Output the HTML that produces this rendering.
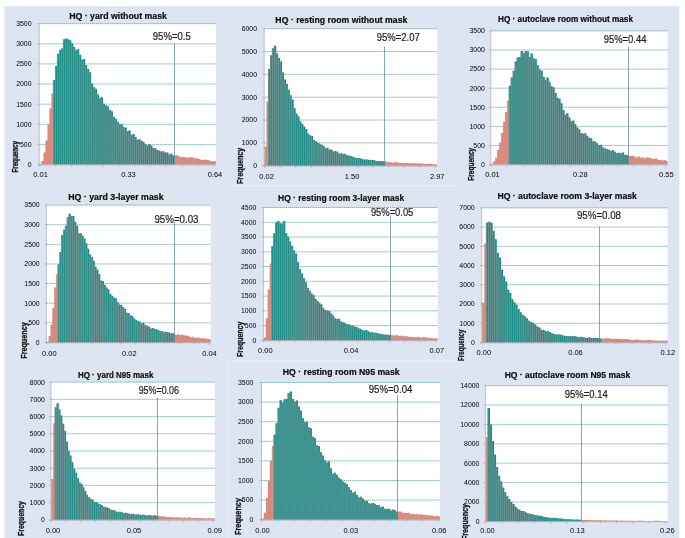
<!DOCTYPE html>
<html><head><meta charset="utf-8"><title>HQ histograms</title>
<style>html,body{margin:0;padding:0;background:#fff;}body{width:685px;height:538px;overflow:hidden;position:relative;font-family:"Liberation Sans",sans-serif;}</style></head>
<body>
<svg width="685" height="538" viewBox="0 0 685 538" style="position:absolute;left:0;top:0" font-family="Liberation Sans, sans-serif">
<defs><filter id="bl" x="-5%" y="-5%" width="110%" height="110%"><feGaussianBlur stdDeviation="0.55"/></filter><filter id="bl2" x="-5%" y="-5%" width="110%" height="110%"><feGaussianBlur stdDeviation="0.32"/></filter></defs>
<rect width="685" height="538" fill="#ffffff"/>
<g filter="url(#bl)">
<rect x="4.3" y="6.2" width="675.0" height="540" fill="#dde5f2"/>
<rect x="227.3" y="361.5" width="1.4" height="180" fill="#e9eef8"/>
<rect x="226" y="185.3" width="231" height="1.3" fill="#e7edf7"/>
<rect x="227.3" y="360.6" width="229" height="1.3" fill="#e8eef8"/>
<rect x="39.62" y="23.67" width="176.29" height="140.87" fill="#ffffff"/>
<line x1="39.62" x2="215.92" y1="23.67" y2="23.67" stroke="#5fa5a1" stroke-width="0.75" stroke-dasharray="1.5 0.5"/>
<line x1="39.62" x2="215.92" y1="43.8" y2="43.8" stroke="#5fa5a1" stroke-width="0.75" stroke-dasharray="1.5 0.5"/>
<line x1="39.62" x2="215.92" y1="63.92" y2="63.92" stroke="#5fa5a1" stroke-width="0.75" stroke-dasharray="1.5 0.5"/>
<line x1="39.62" x2="215.92" y1="84.04" y2="84.04" stroke="#5fa5a1" stroke-width="0.75" stroke-dasharray="1.5 0.5"/>
<line x1="39.62" x2="215.92" y1="104.17" y2="104.17" stroke="#5fa5a1" stroke-width="0.75" stroke-dasharray="1.5 0.5"/>
<line x1="39.62" x2="215.92" y1="124.29" y2="124.29" stroke="#5fa5a1" stroke-width="0.75" stroke-dasharray="1.5 0.5"/>
<line x1="39.62" x2="215.92" y1="144.42" y2="144.42" stroke="#5fa5a1" stroke-width="0.75" stroke-dasharray="1.5 0.5"/>
<rect x="264.62" y="28.71" width="172.6" height="137" fill="#ffffff"/>
<line x1="264.62" x2="437.22" y1="28.71" y2="28.71" stroke="#5fa5a1" stroke-width="0.75" stroke-dasharray="1.5 0.5"/>
<line x1="264.62" x2="437.22" y1="51.54" y2="51.54" stroke="#5fa5a1" stroke-width="0.75" stroke-dasharray="1.5 0.5"/>
<line x1="264.62" x2="437.22" y1="74.38" y2="74.38" stroke="#5fa5a1" stroke-width="0.75" stroke-dasharray="1.5 0.5"/>
<line x1="264.62" x2="437.22" y1="97.21" y2="97.21" stroke="#5fa5a1" stroke-width="0.75" stroke-dasharray="1.5 0.5"/>
<line x1="264.62" x2="437.22" y1="120.05" y2="120.05" stroke="#5fa5a1" stroke-width="0.75" stroke-dasharray="1.5 0.5"/>
<line x1="264.62" x2="437.22" y1="142.88" y2="142.88" stroke="#5fa5a1" stroke-width="0.75" stroke-dasharray="1.5 0.5"/>
<rect x="491.27" y="30.89" width="176.29" height="133.65" fill="#ffffff"/>
<line x1="491.27" x2="667.56" y1="30.89" y2="30.89" stroke="#5fa5a1" stroke-width="0.75" stroke-dasharray="1.5 0.5"/>
<line x1="491.27" x2="667.56" y1="49.99" y2="49.99" stroke="#5fa5a1" stroke-width="0.75" stroke-dasharray="1.5 0.5"/>
<line x1="491.27" x2="667.56" y1="69.08" y2="69.08" stroke="#5fa5a1" stroke-width="0.75" stroke-dasharray="1.5 0.5"/>
<line x1="491.27" x2="667.56" y1="88.17" y2="88.17" stroke="#5fa5a1" stroke-width="0.75" stroke-dasharray="1.5 0.5"/>
<line x1="491.27" x2="667.56" y1="107.26" y2="107.26" stroke="#5fa5a1" stroke-width="0.75" stroke-dasharray="1.5 0.5"/>
<line x1="491.27" x2="667.56" y1="126.36" y2="126.36" stroke="#5fa5a1" stroke-width="0.75" stroke-dasharray="1.5 0.5"/>
<line x1="491.27" x2="667.56" y1="145.45" y2="145.45" stroke="#5fa5a1" stroke-width="0.75" stroke-dasharray="1.5 0.5"/>
<rect x="46.88" y="205.1" width="163.9" height="137.29" fill="#ffffff"/>
<line x1="46.88" x2="210.78" y1="205.1" y2="205.1" stroke="#5fa5a1" stroke-width="0.75" stroke-dasharray="1.5 0.5"/>
<line x1="46.88" x2="210.78" y1="224.71" y2="224.71" stroke="#5fa5a1" stroke-width="0.75" stroke-dasharray="1.5 0.5"/>
<line x1="46.88" x2="210.78" y1="244.33" y2="244.33" stroke="#5fa5a1" stroke-width="0.75" stroke-dasharray="1.5 0.5"/>
<line x1="46.88" x2="210.78" y1="263.94" y2="263.94" stroke="#5fa5a1" stroke-width="0.75" stroke-dasharray="1.5 0.5"/>
<line x1="46.88" x2="210.78" y1="283.55" y2="283.55" stroke="#5fa5a1" stroke-width="0.75" stroke-dasharray="1.5 0.5"/>
<line x1="46.88" x2="210.78" y1="303.17" y2="303.17" stroke="#5fa5a1" stroke-width="0.75" stroke-dasharray="1.5 0.5"/>
<line x1="46.88" x2="210.78" y1="322.78" y2="322.78" stroke="#5fa5a1" stroke-width="0.75" stroke-dasharray="1.5 0.5"/>
<rect x="263.86" y="207.5" width="173.82" height="132.84" fill="#ffffff"/>
<line x1="263.86" x2="437.69" y1="207.5" y2="207.5" stroke="#5fa5a1" stroke-width="0.75" stroke-dasharray="1.5 0.5"/>
<line x1="263.86" x2="437.69" y1="222.26" y2="222.26" stroke="#5fa5a1" stroke-width="0.75" stroke-dasharray="1.5 0.5"/>
<line x1="263.86" x2="437.69" y1="237.02" y2="237.02" stroke="#5fa5a1" stroke-width="0.75" stroke-dasharray="1.5 0.5"/>
<line x1="263.86" x2="437.69" y1="251.78" y2="251.78" stroke="#5fa5a1" stroke-width="0.75" stroke-dasharray="1.5 0.5"/>
<line x1="263.86" x2="437.69" y1="266.54" y2="266.54" stroke="#5fa5a1" stroke-width="0.75" stroke-dasharray="1.5 0.5"/>
<line x1="263.86" x2="437.69" y1="281.3" y2="281.3" stroke="#5fa5a1" stroke-width="0.75" stroke-dasharray="1.5 0.5"/>
<line x1="263.86" x2="437.69" y1="296.07" y2="296.07" stroke="#5fa5a1" stroke-width="0.75" stroke-dasharray="1.5 0.5"/>
<line x1="263.86" x2="437.69" y1="310.83" y2="310.83" stroke="#5fa5a1" stroke-width="0.75" stroke-dasharray="1.5 0.5"/>
<line x1="263.86" x2="437.69" y1="325.59" y2="325.59" stroke="#5fa5a1" stroke-width="0.75" stroke-dasharray="1.5 0.5"/>
<rect x="482.2" y="207.86" width="185.48" height="134.61" fill="#ffffff"/>
<line x1="482.2" x2="667.69" y1="207.86" y2="207.86" stroke="#5fa5a1" stroke-width="0.75" stroke-dasharray="1.5 0.5"/>
<line x1="482.2" x2="667.69" y1="227.09" y2="227.09" stroke="#5fa5a1" stroke-width="0.75" stroke-dasharray="1.5 0.5"/>
<line x1="482.2" x2="667.69" y1="246.32" y2="246.32" stroke="#5fa5a1" stroke-width="0.75" stroke-dasharray="1.5 0.5"/>
<line x1="482.2" x2="667.69" y1="265.55" y2="265.55" stroke="#5fa5a1" stroke-width="0.75" stroke-dasharray="1.5 0.5"/>
<line x1="482.2" x2="667.69" y1="284.78" y2="284.78" stroke="#5fa5a1" stroke-width="0.75" stroke-dasharray="1.5 0.5"/>
<line x1="482.2" x2="667.69" y1="304.01" y2="304.01" stroke="#5fa5a1" stroke-width="0.75" stroke-dasharray="1.5 0.5"/>
<line x1="482.2" x2="667.69" y1="323.24" y2="323.24" stroke="#5fa5a1" stroke-width="0.75" stroke-dasharray="1.5 0.5"/>
<rect x="51.38" y="382.18" width="163.53" height="137.68" fill="#ffffff"/>
<line x1="51.38" x2="214.91" y1="382.18" y2="382.18" stroke="#5fa5a1" stroke-width="0.75" stroke-dasharray="1.5 0.5"/>
<line x1="51.38" x2="214.91" y1="399.39" y2="399.39" stroke="#5fa5a1" stroke-width="0.75" stroke-dasharray="1.5 0.5"/>
<line x1="51.38" x2="214.91" y1="416.6" y2="416.6" stroke="#5fa5a1" stroke-width="0.75" stroke-dasharray="1.5 0.5"/>
<line x1="51.38" x2="214.91" y1="433.81" y2="433.81" stroke="#5fa5a1" stroke-width="0.75" stroke-dasharray="1.5 0.5"/>
<line x1="51.38" x2="214.91" y1="451.02" y2="451.02" stroke="#5fa5a1" stroke-width="0.75" stroke-dasharray="1.5 0.5"/>
<line x1="51.38" x2="214.91" y1="468.22" y2="468.22" stroke="#5fa5a1" stroke-width="0.75" stroke-dasharray="1.5 0.5"/>
<line x1="51.38" x2="214.91" y1="485.43" y2="485.43" stroke="#5fa5a1" stroke-width="0.75" stroke-dasharray="1.5 0.5"/>
<line x1="51.38" x2="214.91" y1="502.64" y2="502.64" stroke="#5fa5a1" stroke-width="0.75" stroke-dasharray="1.5 0.5"/>
<rect x="261.94" y="382.51" width="177.97" height="137.17" fill="#ffffff"/>
<line x1="261.94" x2="439.91" y1="382.51" y2="382.51" stroke="#5fa5a1" stroke-width="0.75" stroke-dasharray="1.5 0.5"/>
<line x1="261.94" x2="439.91" y1="402.11" y2="402.11" stroke="#5fa5a1" stroke-width="0.75" stroke-dasharray="1.5 0.5"/>
<line x1="261.94" x2="439.91" y1="421.71" y2="421.71" stroke="#5fa5a1" stroke-width="0.75" stroke-dasharray="1.5 0.5"/>
<line x1="261.94" x2="439.91" y1="441.3" y2="441.3" stroke="#5fa5a1" stroke-width="0.75" stroke-dasharray="1.5 0.5"/>
<line x1="261.94" x2="439.91" y1="460.9" y2="460.9" stroke="#5fa5a1" stroke-width="0.75" stroke-dasharray="1.5 0.5"/>
<line x1="261.94" x2="439.91" y1="480.49" y2="480.49" stroke="#5fa5a1" stroke-width="0.75" stroke-dasharray="1.5 0.5"/>
<line x1="261.94" x2="439.91" y1="500.09" y2="500.09" stroke="#5fa5a1" stroke-width="0.75" stroke-dasharray="1.5 0.5"/>
<rect x="485.89" y="385.6" width="181.67" height="135.76" fill="#ffffff"/>
<line x1="485.89" x2="667.56" y1="385.6" y2="385.6" stroke="#5fa5a1" stroke-width="0.75" stroke-dasharray="1.5 0.5"/>
<line x1="485.89" x2="667.56" y1="405" y2="405" stroke="#5fa5a1" stroke-width="0.75" stroke-dasharray="1.5 0.5"/>
<line x1="485.89" x2="667.56" y1="424.39" y2="424.39" stroke="#5fa5a1" stroke-width="0.75" stroke-dasharray="1.5 0.5"/>
<line x1="485.89" x2="667.56" y1="443.79" y2="443.79" stroke="#5fa5a1" stroke-width="0.75" stroke-dasharray="1.5 0.5"/>
<line x1="485.89" x2="667.56" y1="463.18" y2="463.18" stroke="#5fa5a1" stroke-width="0.75" stroke-dasharray="1.5 0.5"/>
<line x1="485.89" x2="667.56" y1="482.58" y2="482.58" stroke="#5fa5a1" stroke-width="0.75" stroke-dasharray="1.5 0.5"/>
<line x1="485.89" x2="667.56" y1="501.97" y2="501.97" stroke="#5fa5a1" stroke-width="0.75" stroke-dasharray="1.5 0.5"/>
</g>
<g filter="url(#bl2)">
<path d="M55.47 164.54V65.93h1.98V164.54zM59.43 164.54V50.08h1.98V164.54zM63.39 164.54V39.29h1.98V164.54zM67.36 164.54V39.29h1.98V164.54zM71.32 164.54V43.39h1.98V164.54zM75.28 164.54V50.08h1.98V164.54zM79.24 164.54V54.66h1.98V164.54zM83.2 164.54V59.09h1.98V164.54zM87.16 164.54V69.07h1.98V164.54zM91.13 164.54V83.41h1.98V164.54zM95.09 164.54V88.73h1.98V164.54zM99.05 164.54V97.89h1.98V164.54zM103.01 164.54V103.76h1.98V164.54zM106.97 164.54V106.25h1.98V164.54zM110.93 164.54V111.26h1.98V164.54zM114.89 164.54V118.75h1.98V164.54zM118.86 164.54V124.26h1.98V164.54zM122.82 164.54V126.94h1.98V164.54zM126.78 164.54V131.21h1.98V164.54zM130.74 164.54V135.01h1.98V164.54zM134.7 164.54V136.9h1.98V164.54zM138.66 164.54V139.23h1.98V164.54zM142.63 164.54V141.89h1.98V164.54zM146.59 164.54V145.5h1.98V164.54zM150.55 164.54V145.58h1.98V164.54zM154.51 164.54V148.13h1.98V164.54zM158.47 164.54V150.62h1.98V164.54zM162.43 164.54V151.18h1.98V164.54zM166.4 164.54V152.58h1.98V164.54zM170.36 164.54V153.86h1.98V164.54z" fill="#128d85"/>
<path d="M53.49 164.54V80.02h1.98V164.54zM57.45 164.54V53.66h1.98V164.54zM61.41 164.54V48.51h1.98V164.54zM65.37 164.54V38.57h1.98V164.54zM69.34 164.54V40.3h1.98V164.54zM73.3 164.54V46.98h1.98V164.54zM77.26 164.54V49.03h1.98V164.54zM81.22 164.54V59.82h1.98V164.54zM85.18 164.54V64.97h1.98V164.54zM89.14 164.54V72.13h1.98V164.54zM93.11 164.54V87.22h1.98V164.54zM97.07 164.54V94.53h1.98V164.54zM101.03 164.54V97.36h1.98V164.54zM104.99 164.54V105.37h1.98V164.54zM108.95 164.54V110.05h1.98V164.54zM112.91 164.54V116.86h1.98V164.54zM116.88 164.54V121.8h1.98V164.54zM120.84 164.54V124.6h1.98V164.54zM124.8 164.54V127.73h1.98V164.54zM128.76 164.54V130.41h1.98V164.54zM132.72 164.54V133.89h1.98V164.54zM136.68 164.54V139.8h1.98V164.54zM140.65 164.54V140.71h1.98V164.54zM144.61 164.54V144.18h1.98V164.54zM148.57 164.54V144.21h1.98V164.54zM152.53 164.54V148.01h1.98V164.54zM156.49 164.54V150h1.98V164.54zM160.45 164.54V151.45h1.98V164.54zM164.42 164.54V152.61h1.98V164.54zM168.38 164.54V154.56h1.98V164.54zM172.34 164.54V155.51h1.98V164.54z" fill="#128d85"/>
<path d="M39.62 164.54V163.74h1.98V164.54zM41.6 164.54V160.92h1.98V164.54zM43.59 164.54V152.47h1.98V164.54zM45.57 164.54V140.39h1.98V164.54zM47.55 164.54V124.29h1.98V164.54zM49.53 164.54V108.19h1.98V164.54zM51.51 164.54V93.3h1.98V164.54zM174.32 164.54V155.24h1.98V164.54zM176.3 164.54V155.36h1.98V164.54zM178.28 164.54V156.23h1.98V164.54zM180.26 164.54V157.28h1.98V164.54zM182.24 164.54V156.64h1.98V164.54zM184.22 164.54V157.23h1.98V164.54zM186.2 164.54V157.78h1.98V164.54zM188.19 164.54V157.35h1.98V164.54zM190.17 164.54V157.16h1.98V164.54zM192.15 164.54V157.54h1.98V164.54zM194.13 164.54V158.16h1.98V164.54zM196.11 164.54V158.28h1.98V164.54zM198.09 164.54V159.02h1.98V164.54zM200.07 164.54V159.8h1.98V164.54zM202.05 164.54V160.09h1.98V164.54zM204.03 164.54V159.55h1.98V164.54zM206.01 164.54V160.1h1.98V164.54zM207.99 164.54V160.15h1.98V164.54zM209.97 164.54V161.2h1.98V164.54zM211.96 164.54V161.17h1.98V164.54zM213.94 164.54V160.94h1.98V164.54z" fill="#dc8a7c"/>
<path d="M53.49 164.54V80.02M55.47 164.54V65.93M57.45 164.54V53.66M59.43 164.54V50.08M61.41 164.54V48.51M63.39 164.54V39.29M65.37 164.54V38.57M67.36 164.54V39.29M69.34 164.54V40.3M71.32 164.54V43.39M73.3 164.54V46.98M75.28 164.54V50.08M77.26 164.54V49.03M79.24 164.54V54.66M81.22 164.54V59.82M83.2 164.54V59.09M85.18 164.54V64.97M87.16 164.54V69.07M89.14 164.54V72.13M91.13 164.54V83.41M93.11 164.54V87.22M95.09 164.54V88.73M97.07 164.54V94.53M99.05 164.54V97.89M101.03 164.54V97.36M103.01 164.54V103.76M104.99 164.54V105.37M106.97 164.54V106.25M108.95 164.54V110.05M110.93 164.54V111.26M112.91 164.54V116.86M114.89 164.54V118.75M116.88 164.54V121.8M118.86 164.54V124.26M120.84 164.54V124.6M122.82 164.54V126.94M124.8 164.54V127.73M126.78 164.54V131.21M128.76 164.54V130.41M130.74 164.54V135.01M132.72 164.54V133.89M134.7 164.54V136.9M136.68 164.54V139.8M138.66 164.54V139.23M140.65 164.54V140.71M142.63 164.54V141.89M144.61 164.54V144.18M146.59 164.54V145.5M148.57 164.54V144.21M150.55 164.54V145.58M152.53 164.54V148.01M154.51 164.54V148.13M156.49 164.54V150M158.47 164.54V150.62M160.45 164.54V151.45M162.43 164.54V151.18M164.42 164.54V152.61M166.4 164.54V152.58M168.38 164.54V154.56M170.36 164.54V153.86M172.34 164.54V155.51" stroke="#6e9393" stroke-width="1.1" fill="none" opacity="1"/>
<path d="M39.62 164.54V163.74M41.6 164.54V160.92M43.59 164.54V152.47M45.57 164.54V140.39M47.55 164.54V124.29M49.53 164.54V108.19M51.51 164.54V93.3M174.32 164.54V155.24M176.3 164.54V155.36M178.28 164.54V156.23M180.26 164.54V157.28M182.24 164.54V156.64M184.22 164.54V157.23M186.2 164.54V157.78M188.19 164.54V157.35M190.17 164.54V157.16M192.15 164.54V157.54M194.13 164.54V158.16M196.11 164.54V158.28M198.09 164.54V159.02M200.07 164.54V159.8M202.05 164.54V160.09M204.03 164.54V159.55M206.01 164.54V160.1M207.99 164.54V160.15M209.97 164.54V161.2M211.96 164.54V161.17M213.94 164.54V160.94" stroke="#b89a96" stroke-width="0.4" fill="none" opacity="0.6"/>
<path d="M268.5 165.72V68.9h1.94V165.72zM272.38 165.72V48.37h1.94V165.72zM276.26 165.72V53.59h1.94V165.72zM280.14 165.72V61.25h1.94V165.72zM284.02 165.72V79.5h1.94V165.72zM287.9 165.72V89.76h1.94V165.72zM291.77 165.72V99.53h1.94V165.72zM295.65 165.72V113.43h1.94V165.72zM299.53 165.72V121.59h1.94V165.72zM303.41 165.72V126.4h1.94V165.72zM307.29 165.72V133.5h1.94V165.72zM311.17 165.72V135.93h1.94V165.72zM315.05 165.72V141.32h1.94V165.72zM318.92 165.72V143.8h1.94V165.72zM322.8 165.72V145.92h1.94V165.72zM326.68 165.72V147.78h1.94V165.72zM330.56 165.72V149.49h1.94V165.72zM334.44 165.72V151.12h1.94V165.72zM338.32 165.72V153.78h1.94V165.72zM342.2 165.72V153.93h1.94V165.72zM346.08 165.72V155.15h1.94V165.72zM349.95 165.72V156.01h1.94V165.72zM353.83 165.72V157.48h1.94V165.72zM357.71 165.72V158.13h1.94V165.72zM361.59 165.72V159.16h1.94V165.72zM365.47 165.72V159.41h1.94V165.72zM369.35 165.72V160.06h1.94V165.72zM373.23 165.72V159.92h1.94V165.72zM377.1 165.72V160.97h1.94V165.72zM380.98 165.72V161.09h1.94V165.72z" fill="#128d85"/>
<path d="M270.44 165.72V55.37h1.94V165.72zM274.32 165.72V45.63h1.94V165.72zM278.2 165.72V58.11h1.94V165.72zM282.08 165.72V72.45h1.94V165.72zM285.96 165.72V83.86h1.94V165.72zM289.84 165.72V95.17h1.94V165.72zM293.71 165.72V108.2h1.94V165.72zM297.59 165.72V116.17h1.94V165.72zM301.47 165.72V123.97h1.94V165.72zM305.35 165.72V129.08h1.94V165.72zM309.23 165.72V135.26h1.94V165.72zM313.11 165.72V140.06h1.94V165.72zM316.99 165.72V142.72h1.94V165.72zM320.86 165.72V144.69h1.94V165.72zM324.74 165.72V148.35h1.94V165.72zM328.62 165.72V149.85h1.94V165.72zM332.5 165.72V151.4h1.94V165.72zM336.38 165.72V151.7h1.94V165.72zM340.26 165.72V153.27h1.94V165.72zM344.14 165.72V153.83h1.94V165.72zM348.01 165.72V155.39h1.94V165.72zM351.89 165.72V156.64h1.94V165.72zM355.77 165.72V157.91h1.94V165.72zM359.65 165.72V158.2h1.94V165.72zM363.53 165.72V159.57h1.94V165.72zM367.41 165.72V159.77h1.94V165.72zM371.29 165.72V160.07h1.94V165.72zM375.16 165.72V160.96h1.94V165.72zM379.04 165.72V160.98h1.94V165.72zM382.92 165.72V161.55h1.94V165.72z" fill="#128d85"/>
<path d="M264.62 165.72V146.83h1.94V165.72zM266.56 165.72V101.65h1.94V165.72zM384.86 165.72V161.51h1.94V165.72zM386.8 165.72V162.21h1.94V165.72zM388.74 165.72V161.84h1.94V165.72zM390.68 165.72V162.51h1.94V165.72zM392.62 165.72V162.63h1.94V165.72zM394.56 165.72V162.09h1.94V165.72zM396.5 165.72V162.33h1.94V165.72zM398.44 165.72V162.91h1.94V165.72zM400.38 165.72V163.11h1.94V165.72zM402.32 165.72V163.35h1.94V165.72zM404.25 165.72V162.99h1.94V165.72zM406.19 165.72V163.05h1.94V165.72zM408.13 165.72V163.36h1.94V165.72zM410.07 165.72V163.54h1.94V165.72zM412.01 165.72V163.34h1.94V165.72zM413.95 165.72V163.24h1.94V165.72zM415.89 165.72V163.62h1.94V165.72zM417.83 165.72V163.34h1.94V165.72zM419.77 165.72V163.76h1.94V165.72zM421.71 165.72V163.56h1.94V165.72zM423.65 165.72V163.92h1.94V165.72zM425.59 165.72V164.04h1.94V165.72zM427.53 165.72V163.8h1.94V165.72zM429.47 165.72V163.82h1.94V165.72zM431.41 165.72V163.98h1.94V165.72zM433.34 165.72V164.35h1.94V165.72zM435.28 165.72V164.43h1.94V165.72z" fill="#dc8a7c"/>
<path d="M268.5 165.72V68.9M270.44 165.72V55.37M272.38 165.72V48.37M274.32 165.72V45.63M276.26 165.72V53.59M278.2 165.72V58.11M280.14 165.72V61.25M282.08 165.72V72.45M284.02 165.72V79.5M285.96 165.72V83.86M287.9 165.72V89.76M289.84 165.72V95.17M291.77 165.72V99.53M293.71 165.72V108.2M295.65 165.72V113.43M297.59 165.72V116.17M299.53 165.72V121.59M301.47 165.72V123.97M303.41 165.72V126.4M305.35 165.72V129.08M307.29 165.72V133.5M309.23 165.72V135.26M311.17 165.72V135.93M313.11 165.72V140.06M315.05 165.72V141.32M316.99 165.72V142.72M318.92 165.72V143.8M320.86 165.72V144.69M322.8 165.72V145.92M324.74 165.72V148.35M326.68 165.72V147.78M328.62 165.72V149.85M330.56 165.72V149.49M332.5 165.72V151.4M334.44 165.72V151.12M336.38 165.72V151.7M338.32 165.72V153.78M340.26 165.72V153.27M342.2 165.72V153.93M344.14 165.72V153.83M346.08 165.72V155.15M348.01 165.72V155.39M349.95 165.72V156.01M351.89 165.72V156.64M353.83 165.72V157.48M355.77 165.72V157.91M357.71 165.72V158.13M359.65 165.72V158.2M361.59 165.72V159.16M363.53 165.72V159.57M365.47 165.72V159.41M367.41 165.72V159.77M369.35 165.72V160.06M371.29 165.72V160.07M373.23 165.72V159.92M375.16 165.72V160.96M377.1 165.72V160.97M379.04 165.72V160.98M380.98 165.72V161.09M382.92 165.72V161.55" stroke="#6e9393" stroke-width="1.1" fill="none" opacity="1"/>
<path d="M264.62 165.72V146.83M266.56 165.72V101.65M384.86 165.72V161.51M386.8 165.72V162.21M388.74 165.72V161.84M390.68 165.72V162.51M392.62 165.72V162.63M394.56 165.72V162.09M396.5 165.72V162.33M398.44 165.72V162.91M400.38 165.72V163.11M402.32 165.72V163.35M404.25 165.72V162.99M406.19 165.72V163.05M408.13 165.72V163.36M410.07 165.72V163.54M412.01 165.72V163.34M413.95 165.72V163.24M415.89 165.72V163.62M417.83 165.72V163.34M419.77 165.72V163.76M421.71 165.72V163.56M423.65 165.72V163.92M425.59 165.72V164.04M427.53 165.72V163.8M429.47 165.72V163.82M431.41 165.72V163.98M433.34 165.72V164.35M435.28 165.72V164.43" stroke="#b89a96" stroke-width="0.4" fill="none" opacity="0.6"/>
<path d="M511.07 164.54V77.19h1.98V164.54zM515.04 164.54V61.49h1.98V164.54zM519 164.54V56.98h1.98V164.54zM522.96 164.54V53.13h1.98V164.54zM526.92 164.54V51.37h1.98V164.54zM530.88 164.54V53.4h1.98V164.54zM534.84 164.54V59.02h1.98V164.54zM538.81 164.54V69.59h1.98V164.54zM542.77 164.54V76.86h1.98V164.54zM546.73 164.54V77.44h1.98V164.54zM550.69 164.54V86.35h1.98V164.54zM554.65 164.54V93.12h1.98V164.54zM558.61 164.54V98.79h1.98V164.54zM562.58 164.54V110.08h1.98V164.54zM566.54 164.54V113.24h1.98V164.54zM570.5 164.54V121.24h1.98V164.54zM574.46 164.54V124.13h1.98V164.54zM578.42 164.54V129.57h1.98V164.54zM582.38 164.54V133.72h1.98V164.54zM586.35 164.54V135.69h1.98V164.54zM590.31 164.54V138.27h1.98V164.54zM594.27 164.54V141.62h1.98V164.54zM598.23 164.54V145.13h1.98V164.54zM602.19 164.54V147.52h1.98V164.54zM606.15 164.54V148.89h1.98V164.54zM610.12 164.54V150.92h1.98V164.54zM614.08 164.54V151.67h1.98V164.54zM618.04 164.54V152.64h1.98V164.54zM622 164.54V152.57h1.98V164.54zM625.96 164.54V155.04h1.98V164.54z" fill="#128d85"/>
<path d="M509.09 164.54V85.85h1.98V164.54zM513.05 164.54V70.76h1.98V164.54zM517.02 164.54V57.58h1.98V164.54zM520.98 164.54V50.88h1.98V164.54zM524.94 164.54V50.89h1.98V164.54zM528.9 164.54V56.9h1.98V164.54zM532.86 164.54V58.28h1.98V164.54zM536.82 164.54V65.15h1.98V164.54zM540.79 164.54V70.69h1.98V164.54zM544.75 164.54V79.74h1.98V164.54zM548.71 164.54V81.63h1.98V164.54zM552.67 164.54V87.35h1.98V164.54zM556.63 164.54V97.75h1.98V164.54zM560.59 164.54V103.15h1.98V164.54zM564.56 164.54V114.77h1.98V164.54zM568.52 164.54V117.51h1.98V164.54zM572.48 164.54V120.43h1.98V164.54zM576.44 164.54V127.61h1.98V164.54zM580.4 164.54V132.99h1.98V164.54zM584.36 164.54V133.26h1.98V164.54zM588.33 164.54V137.82h1.98V164.54zM592.29 164.54V141.19h1.98V164.54zM596.25 164.54V143.34h1.98V164.54zM600.21 164.54V144.71h1.98V164.54zM604.17 164.54V148.4h1.98V164.54zM608.13 164.54V149.75h1.98V164.54zM612.1 164.54V150.26h1.98V164.54zM616.06 164.54V152.95h1.98V164.54zM620.02 164.54V153.53h1.98V164.54zM623.98 164.54V154.84h1.98V164.54z" fill="#128d85"/>
<path d="M491.27 164.54V163.64h1.98V164.54zM493.25 164.54V161.16h1.98V164.54zM495.23 164.54V157.72h1.98V164.54zM497.21 164.54V149.97h1.98V164.54zM499.19 164.54V142.68h1.98V164.54zM501.17 164.54V133.07h1.98V164.54zM503.15 164.54V121.61h1.98V164.54zM505.13 164.54V111.97h1.98V164.54zM507.11 164.54V100.7h1.98V164.54zM627.94 164.54V155.95h1.98V164.54zM629.92 164.54V156.01h1.98V164.54zM631.9 164.54V155.74h1.98V164.54zM633.88 164.54V156.5h1.98V164.54zM635.87 164.54V157.44h1.98V164.54zM637.85 164.54V156.53h1.98V164.54zM639.83 164.54V157.8h1.98V164.54zM641.81 164.54V157.36h1.98V164.54zM643.79 164.54V158.38h1.98V164.54zM645.77 164.54V157.37h1.98V164.54zM647.75 164.54V157.59h1.98V164.54zM649.73 164.54V158.02h1.98V164.54zM651.71 164.54V159.01h1.98V164.54zM653.69 164.54V158.78h1.98V164.54zM655.67 164.54V158.62h1.98V164.54zM657.65 164.54V160.06h1.98V164.54zM659.64 164.54V160.11h1.98V164.54zM661.62 164.54V160.39h1.98V164.54zM663.6 164.54V160.01h1.98V164.54zM665.58 164.54V161.02h1.98V164.54z" fill="#dc8a7c"/>
<path d="M509.09 164.54V85.85M511.07 164.54V77.19M513.05 164.54V70.76M515.04 164.54V61.49M517.02 164.54V57.58M519 164.54V56.98M520.98 164.54V50.88M522.96 164.54V53.13M524.94 164.54V50.89M526.92 164.54V51.37M528.9 164.54V56.9M530.88 164.54V53.4M532.86 164.54V58.28M534.84 164.54V59.02M536.82 164.54V65.15M538.81 164.54V69.59M540.79 164.54V70.69M542.77 164.54V76.86M544.75 164.54V79.74M546.73 164.54V77.44M548.71 164.54V81.63M550.69 164.54V86.35M552.67 164.54V87.35M554.65 164.54V93.12M556.63 164.54V97.75M558.61 164.54V98.79M560.59 164.54V103.15M562.58 164.54V110.08M564.56 164.54V114.77M566.54 164.54V113.24M568.52 164.54V117.51M570.5 164.54V121.24M572.48 164.54V120.43M574.46 164.54V124.13M576.44 164.54V127.61M578.42 164.54V129.57M580.4 164.54V132.99M582.38 164.54V133.72M584.36 164.54V133.26M586.35 164.54V135.69M588.33 164.54V137.82M590.31 164.54V138.27M592.29 164.54V141.19M594.27 164.54V141.62M596.25 164.54V143.34M598.23 164.54V145.13M600.21 164.54V144.71M602.19 164.54V147.52M604.17 164.54V148.4M606.15 164.54V148.89M608.13 164.54V149.75M610.12 164.54V150.92M612.1 164.54V150.26M614.08 164.54V151.67M616.06 164.54V152.95M618.04 164.54V152.64M620.02 164.54V153.53M622 164.54V152.57M623.98 164.54V154.84M625.96 164.54V155.04" stroke="#6e9393" stroke-width="1.1" fill="none" opacity="1"/>
<path d="M491.27 164.54V163.64M493.25 164.54V161.16M495.23 164.54V157.72M497.21 164.54V149.97M499.19 164.54V142.68M501.17 164.54V133.07M503.15 164.54V121.61M505.13 164.54V111.97M507.11 164.54V100.7M627.94 164.54V155.95M629.92 164.54V156.01M631.9 164.54V155.74M633.88 164.54V156.5M635.87 164.54V157.44M637.85 164.54V156.53M639.83 164.54V157.8M641.81 164.54V157.36M643.79 164.54V158.38M645.77 164.54V157.37M647.75 164.54V157.59M649.73 164.54V158.02M651.71 164.54V159.01M653.69 164.54V158.78M655.67 164.54V158.62M657.65 164.54V160.06M659.64 164.54V160.11M661.62 164.54V160.39M663.6 164.54V160.01M665.58 164.54V161.02" stroke="#b89a96" stroke-width="0.4" fill="none" opacity="0.6"/>
<path d="M57.93 342.39V264.54h1.84V342.39zM61.62 342.39V234.94h1.84V342.39zM65.3 342.39V225.63h1.84V342.39zM68.98 342.39V213.85h1.84V342.39zM72.66 342.39V215.98h1.84V342.39zM76.35 342.39V225.73h1.84V342.39zM80.03 342.39V233.26h1.84V342.39zM83.71 342.39V238.62h1.84V342.39zM87.4 342.39V248.66h1.84V342.39zM91.08 342.39V256.91h1.84V342.39zM94.76 342.39V266.69h1.84V342.39zM98.45 342.39V274.07h1.84V342.39zM102.13 342.39V281.03h1.84V342.39zM105.81 342.39V287.43h1.84V342.39zM109.5 342.39V293.99h1.84V342.39zM113.18 342.39V297.38h1.84V342.39zM116.86 342.39V302.03h1.84V342.39zM120.54 342.39V305.11h1.84V342.39zM124.23 342.39V309.06h1.84V342.39zM127.91 342.39V313.04h1.84V342.39zM131.59 342.39V315.93h1.84V342.39zM135.28 342.39V319.91h1.84V342.39zM138.96 342.39V321.82h1.84V342.39zM142.64 342.39V322.77h1.84V342.39zM146.33 342.39V325.75h1.84V342.39zM150.01 342.39V328.64h1.84V342.39zM153.69 342.39V328.75h1.84V342.39zM157.38 342.39V330.03h1.84V342.39zM161.06 342.39V331.08h1.84V342.39zM164.74 342.39V331.85h1.84V342.39zM168.42 342.39V332.48h1.84V342.39zM172.11 342.39V333.35h1.84V342.39z" fill="#128d85"/>
<path d="M59.77 342.39V252.02h1.84V342.39zM63.46 342.39V229.83h1.84V342.39zM67.14 342.39V216.89h1.84V342.39zM70.82 342.39V215.98h1.84V342.39zM74.51 342.39V221.82h1.84V342.39zM78.19 342.39V233.62h1.84V342.39zM81.87 342.39V235.64h1.84V342.39zM85.56 342.39V243.41h1.84V342.39zM89.24 342.39V254.55h1.84V342.39zM92.92 342.39V260.71h1.84V342.39zM96.6 342.39V269.42h1.84V342.39zM100.29 342.39V280.58h1.84V342.39zM103.97 342.39V284.78h1.84V342.39zM107.65 342.39V289.39h1.84V342.39zM111.34 342.39V295.66h1.84V342.39zM115.02 342.39V298.22h1.84V342.39zM118.7 342.39V304.42h1.84V342.39zM122.39 342.39V307.12h1.84V342.39zM126.07 342.39V312.69h1.84V342.39zM129.75 342.39V315.16h1.84V342.39zM133.44 342.39V318.55h1.84V342.39zM137.12 342.39V321.1h1.84V342.39zM140.8 342.39V323.72h1.84V342.39zM144.48 342.39V325.06h1.84V342.39zM148.17 342.39V326.43h1.84V342.39zM151.85 342.39V328.12h1.84V342.39zM155.53 342.39V329.15h1.84V342.39zM159.22 342.39V331.21h1.84V342.39zM162.9 342.39V332.04h1.84V342.39zM166.58 342.39V332.06h1.84V342.39zM170.27 342.39V333.61h1.84V342.39z" fill="#128d85"/>
<path d="M46.88 342.39V341.45h1.84V342.39zM48.72 342.39V336.12h1.84V342.39zM50.57 342.39V324.49h1.84V342.39zM52.41 342.39V307.93h1.84V342.39zM54.25 342.39V287.43h1.84V342.39zM56.09 342.39V274.34h1.84V342.39zM173.95 342.39V334.43h1.84V342.39zM175.79 342.39V335.08h1.84V342.39zM177.63 342.39V334.3h1.84V342.39zM179.47 342.39V335.11h1.84V342.39zM181.32 342.39V334.73h1.84V342.39zM183.16 342.39V335.24h1.84V342.39zM185 342.39V335.44h1.84V342.39zM186.84 342.39V335.87h1.84V342.39zM188.68 342.39V336.46h1.84V342.39zM190.52 342.39V337.52h1.84V342.39zM192.36 342.39V336.69h1.84V342.39zM194.21 342.39V337.81h1.84V342.39zM196.05 342.39V337.68h1.84V342.39zM197.89 342.39V337.39h1.84V342.39zM199.73 342.39V338.39h1.84V342.39zM201.57 342.39V338.04h1.84V342.39zM203.41 342.39V338.6h1.84V342.39zM205.26 342.39V338.5h1.84V342.39zM207.1 342.39V338.87h1.84V342.39zM208.94 342.39V339.17h1.84V342.39z" fill="#dc8a7c"/>
<path d="M57.93 342.39V264.54M59.77 342.39V252.02M61.62 342.39V234.94M63.46 342.39V229.83M65.3 342.39V225.63M67.14 342.39V216.89M68.98 342.39V213.85M70.82 342.39V215.98M72.66 342.39V215.98M74.51 342.39V221.82M76.35 342.39V225.73M78.19 342.39V233.62M80.03 342.39V233.26M81.87 342.39V235.64M83.71 342.39V238.62M85.56 342.39V243.41M87.4 342.39V248.66M89.24 342.39V254.55M91.08 342.39V256.91M92.92 342.39V260.71M94.76 342.39V266.69M96.6 342.39V269.42M98.45 342.39V274.07M100.29 342.39V280.58M102.13 342.39V281.03M103.97 342.39V284.78M105.81 342.39V287.43M107.65 342.39V289.39M109.5 342.39V293.99M111.34 342.39V295.66M113.18 342.39V297.38M115.02 342.39V298.22M116.86 342.39V302.03M118.7 342.39V304.42M120.54 342.39V305.11M122.39 342.39V307.12M124.23 342.39V309.06M126.07 342.39V312.69M127.91 342.39V313.04M129.75 342.39V315.16M131.59 342.39V315.93M133.44 342.39V318.55M135.28 342.39V319.91M137.12 342.39V321.1M138.96 342.39V321.82M140.8 342.39V323.72M142.64 342.39V322.77M144.48 342.39V325.06M146.33 342.39V325.75M148.17 342.39V326.43M150.01 342.39V328.64M151.85 342.39V328.12M153.69 342.39V328.75M155.53 342.39V329.15M157.38 342.39V330.03M159.22 342.39V331.21M161.06 342.39V331.08M162.9 342.39V332.04M164.74 342.39V331.85M166.58 342.39V332.06M168.42 342.39V332.48M170.27 342.39V333.61M172.11 342.39V333.35" stroke="#6e9393" stroke-width="1.1" fill="none" opacity="1"/>
<path d="M46.88 342.39V341.45M48.72 342.39V336.12M50.57 342.39V324.49M52.41 342.39V307.93M54.25 342.39V287.43M56.09 342.39V274.34M173.95 342.39V334.43M175.79 342.39V335.08M177.63 342.39V334.3M179.47 342.39V335.11M181.32 342.39V334.73M183.16 342.39V335.24M185 342.39V335.44M186.84 342.39V335.87M188.68 342.39V336.46M190.52 342.39V337.52M192.36 342.39V336.69M194.21 342.39V337.81M196.05 342.39V337.68M197.89 342.39V337.39M199.73 342.39V338.39M201.57 342.39V338.04M203.41 342.39V338.6M205.26 342.39V338.5M207.1 342.39V338.87M208.94 342.39V339.17" stroke="#b89a96" stroke-width="0.4" fill="none" opacity="0.6"/>
<path d="M271.68 340.35V245.97h1.95V340.35zM275.58 340.35V222.56h1.95V340.35zM279.49 340.35V223.27h1.95V340.35zM283.39 340.35V221.05h1.95V340.35zM287.3 340.35V236.82h1.95V340.35zM291.21 340.35V245.97h1.95V340.35zM295.11 340.35V253.61h1.95V340.35zM299.02 340.35V269.18h1.95V340.35zM302.93 340.35V278.31h1.95V340.35zM306.83 340.35V287.73h1.95V340.35zM310.74 340.35V293.57h1.95V340.35zM314.64 340.35V298.8h1.95V340.35zM318.55 340.35V302.82h1.95V340.35zM322.46 340.35V308.27h1.95V340.35zM326.36 340.35V310.55h1.95V340.35zM330.27 340.35V313.59h1.95V340.35zM334.17 340.35V318.28h1.95V340.35zM338.08 340.35V318.66h1.95V340.35zM341.99 340.35V322.28h1.95V340.35zM345.89 340.35V324.26h1.95V340.35zM349.8 340.35V325.6h1.95V340.35zM353.71 340.35V326.48h1.95V340.35zM357.61 340.35V328.28h1.95V340.35zM361.52 340.35V330.03h1.95V340.35zM365.42 340.35V329.91h1.95V340.35zM369.33 340.35V332.16h1.95V340.35zM373.24 340.35V332.66h1.95V340.35zM377.14 340.35V333.41h1.95V340.35zM381.05 340.35V334.36h1.95V340.35zM384.95 340.35V334.72h1.95V340.35zM388.86 340.35V334.95h1.95V340.35z" fill="#128d85"/>
<path d="M273.63 340.35V233.25h1.95V340.35zM277.53 340.35V221.05h1.95V340.35zM281.44 340.35V223.59h1.95V340.35zM285.35 340.35V233.25h1.95V340.35zM289.25 340.35V241.39h1.95V340.35zM293.16 340.35V250.57h1.95V340.35zM297.07 340.35V261.98h1.95V340.35zM300.97 340.35V273.15h1.95V340.35zM304.88 340.35V282.25h1.95V340.35zM308.78 340.35V290.83h1.95V340.35zM312.69 340.35V295.09h1.95V340.35zM316.6 340.35V300.63h1.95V340.35zM320.5 340.35V304.2h1.95V340.35zM324.41 340.35V310.05h1.95V340.35zM328.32 340.35V311.11h1.95V340.35zM332.22 340.35V315.43h1.95V340.35zM336.13 340.35V318.9h1.95V340.35zM340.03 340.35V321.48h1.95V340.35zM343.94 340.35V322.77h1.95V340.35zM347.85 340.35V324.23h1.95V340.35zM351.75 340.35V325.79h1.95V340.35zM355.66 340.35V327.03h1.95V340.35zM359.56 340.35V328.85h1.95V340.35zM363.47 340.35V330.87h1.95V340.35zM367.38 340.35V331.36h1.95V340.35zM371.28 340.35V332.22h1.95V340.35zM375.19 340.35V332.7h1.95V340.35zM379.1 340.35V333.87h1.95V340.35zM383 340.35V334.6h1.95V340.35zM386.91 340.35V334.86h1.95V340.35z" fill="#128d85"/>
<path d="M263.86 340.35V337.39h1.95V340.35zM265.82 340.35V318.21h1.95V340.35zM267.77 340.35V289.57h1.95V340.35zM269.72 340.35V263.59h1.95V340.35zM390.81 340.35V335.32h1.95V340.35zM392.77 340.35V335.53h1.95V340.35zM394.72 340.35V335.3h1.95V340.35zM396.67 340.35V335.24h1.95V340.35zM398.63 340.35V336.26h1.95V340.35zM400.58 340.35V335.49h1.95V340.35zM402.53 340.35V336.18h1.95V340.35zM404.49 340.35V336.28h1.95V340.35zM406.44 340.35V336.35h1.95V340.35zM408.39 340.35V337.01h1.95V340.35zM410.34 340.35V337h1.95V340.35zM412.3 340.35V336.99h1.95V340.35zM414.25 340.35V337.35h1.95V340.35zM416.2 340.35V337.14h1.95V340.35zM418.16 340.35V337.04h1.95V340.35zM420.11 340.35V337.66h1.95V340.35zM422.06 340.35V337.25h1.95V340.35zM424.02 340.35V337.32h1.95V340.35zM425.97 340.35V337.87h1.95V340.35zM427.92 340.35V337.85h1.95V340.35zM429.88 340.35V337.96h1.95V340.35zM431.83 340.35V338.35h1.95V340.35zM433.78 340.35V338.6h1.95V340.35zM435.74 340.35V338.18h1.95V340.35z" fill="#dc8a7c"/>
<path d="M271.68 340.35V245.97M273.63 340.35V233.25M275.58 340.35V222.56M277.53 340.35V221.05M279.49 340.35V223.27M281.44 340.35V223.59M283.39 340.35V221.05M285.35 340.35V233.25M287.3 340.35V236.82M289.25 340.35V241.39M291.21 340.35V245.97M293.16 340.35V250.57M295.11 340.35V253.61M297.07 340.35V261.98M299.02 340.35V269.18M300.97 340.35V273.15M302.93 340.35V278.31M304.88 340.35V282.25M306.83 340.35V287.73M308.78 340.35V290.83M310.74 340.35V293.57M312.69 340.35V295.09M314.64 340.35V298.8M316.6 340.35V300.63M318.55 340.35V302.82M320.5 340.35V304.2M322.46 340.35V308.27M324.41 340.35V310.05M326.36 340.35V310.55M328.32 340.35V311.11M330.27 340.35V313.59M332.22 340.35V315.43M334.17 340.35V318.28M336.13 340.35V318.9M338.08 340.35V318.66M340.03 340.35V321.48M341.99 340.35V322.28M343.94 340.35V322.77M345.89 340.35V324.26M347.85 340.35V324.23M349.8 340.35V325.6M351.75 340.35V325.79M353.71 340.35V326.48M355.66 340.35V327.03M357.61 340.35V328.28M359.56 340.35V328.85M361.52 340.35V330.03M363.47 340.35V330.87M365.42 340.35V329.91M367.38 340.35V331.36M369.33 340.35V332.16M371.28 340.35V332.22M373.24 340.35V332.66M375.19 340.35V332.7M377.14 340.35V333.41M379.1 340.35V333.87M381.05 340.35V334.36M383 340.35V334.6M384.95 340.35V334.72M386.91 340.35V334.86M388.86 340.35V334.95" stroke="#6e9393" stroke-width="1.1" fill="none" opacity="1"/>
<path d="M263.86 340.35V337.39M265.82 340.35V318.21M267.77 340.35V289.57M269.72 340.35V263.59M390.81 340.35V335.32M392.77 340.35V335.53M394.72 340.35V335.3M396.67 340.35V335.24M398.63 340.35V336.26M400.58 340.35V335.49M402.53 340.35V336.18M404.49 340.35V336.28M406.44 340.35V336.35M408.39 340.35V337.01M410.34 340.35V337M412.3 340.35V336.99M414.25 340.35V337.35M416.2 340.35V337.14M418.16 340.35V337.04M420.11 340.35V337.66M422.06 340.35V337.25M424.02 340.35V337.32M425.97 340.35V337.87M427.92 340.35V337.85M429.88 340.35V337.96M431.83 340.35V338.35M433.78 340.35V338.6M435.74 340.35V338.18" stroke="#b89a96" stroke-width="0.4" fill="none" opacity="0.6"/>
<path d="M486.37 342.47V222.53h2.08V342.47zM490.54 342.47V222.63h2.08V342.47zM494.71 342.47V239.23h2.08V342.47zM498.88 342.47V257.57h2.08V342.47zM503.05 342.47V276.47h2.08V342.47zM507.21 342.47V289.86h2.08V342.47zM511.38 342.47V299.25h2.08V342.47zM515.55 342.47V304.76h2.08V342.47zM519.72 342.47V312.31h2.08V342.47zM523.89 342.47V316.24h2.08V342.47zM528.05 342.47V320.72h2.08V342.47zM532.22 342.47V322.97h2.08V342.47zM536.39 342.47V326.57h2.08V342.47zM540.56 342.47V329.79h2.08V342.47zM544.73 342.47V331.36h2.08V342.47zM548.9 342.47V332.1h2.08V342.47zM553.06 342.47V333.91h2.08V342.47zM557.23 342.47V334.5h2.08V342.47zM561.4 342.47V335.27h2.08V342.47zM565.57 342.47V335.98h2.08V342.47zM569.74 342.47V336.11h2.08V342.47zM573.9 342.47V336.28h2.08V342.47zM578.07 342.47V337.22h2.08V342.47zM582.24 342.47V337.16h2.08V342.47zM586.41 342.47V337.97h2.08V342.47zM590.58 342.47V337.97h2.08V342.47zM594.75 342.47V337.99h2.08V342.47zM598.91 342.47V338.61h2.08V342.47z" fill="#128d85"/>
<path d="M488.46 342.47V221.7h2.08V342.47zM492.62 342.47V230.93h2.08V342.47zM496.79 342.47V252.63h2.08V342.47zM500.96 342.47V269.77h2.08V342.47zM505.13 342.47V281.49h2.08V342.47zM509.3 342.47V292.88h2.08V342.47zM513.47 342.47V302.28h2.08V342.47zM517.63 342.47V308.89h2.08V342.47zM521.8 342.47V314.71h2.08V342.47zM525.97 342.47V318.33h2.08V342.47zM530.14 342.47V321.96h2.08V342.47zM534.31 342.47V324.59h2.08V342.47zM538.47 342.47V327.6h2.08V342.47zM542.64 342.47V330.12h2.08V342.47zM546.81 342.47V331.08h2.08V342.47zM550.98 342.47V333.34h2.08V342.47zM555.15 342.47V334.47h2.08V342.47zM559.32 342.47V334.49h2.08V342.47zM563.48 342.47V335.76h2.08V342.47zM567.65 342.47V336.3h2.08V342.47zM571.82 342.47V336.25h2.08V342.47zM575.99 342.47V336.68h2.08V342.47zM580.16 342.47V336.72h2.08V342.47zM584.32 342.47V337.87h2.08V342.47zM588.49 342.47V337.33h2.08V342.47zM592.66 342.47V337.88h2.08V342.47zM596.83 342.47V338.06h2.08V342.47z" fill="#128d85"/>
<path d="M482.2 342.47V302.77h2.08V342.47zM484.29 342.47V243.41h2.08V342.47zM601 342.47V338.34h2.08V342.47zM603.08 342.47V338.69h2.08V342.47zM605.17 342.47V338.24h2.08V342.47zM607.25 342.47V338.3h2.08V342.47zM609.33 342.47V338.59h2.08V342.47zM611.42 342.47V338.99h2.08V342.47zM613.5 342.47V338.88h2.08V342.47zM615.59 342.47V338.74h2.08V342.47zM617.67 342.47V339.02h2.08V342.47zM619.75 342.47V339.02h2.08V342.47zM621.84 342.47V339.27h2.08V342.47zM623.92 342.47V338.96h2.08V342.47zM626.01 342.47V339.06h2.08V342.47zM628.09 342.47V339.14h2.08V342.47zM630.17 342.47V339.9h2.08V342.47zM632.26 342.47V339.96h2.08V342.47zM634.34 342.47V339.77h2.08V342.47zM636.43 342.47V339.6h2.08V342.47zM638.51 342.47V340.03h2.08V342.47zM640.6 342.47V340.21h2.08V342.47zM642.68 342.47V340.28h2.08V342.47zM644.76 342.47V340.22h2.08V342.47zM646.85 342.47V339.85h2.08V342.47zM648.93 342.47V339.99h2.08V342.47zM651.02 342.47V340.32h2.08V342.47zM653.1 342.47V340.5h2.08V342.47zM655.18 342.47V340.61h2.08V342.47zM657.27 342.47V340.65h2.08V342.47zM659.35 342.47V340.68h2.08V342.47zM661.44 342.47V340.45h2.08V342.47zM663.52 342.47V340.84h2.08V342.47zM665.6 342.47V340.45h2.08V342.47z" fill="#dc8a7c"/>
<path d="M486.37 342.47V222.53M488.46 342.47V221.7M490.54 342.47V222.63M492.62 342.47V230.93M494.71 342.47V239.23M496.79 342.47V252.63M498.88 342.47V257.57M500.96 342.47V269.77M503.05 342.47V276.47M505.13 342.47V281.49M507.21 342.47V289.86M509.3 342.47V292.88M511.38 342.47V299.25M513.47 342.47V302.28M515.55 342.47V304.76M517.63 342.47V308.89M519.72 342.47V312.31M521.8 342.47V314.71M523.89 342.47V316.24M525.97 342.47V318.33M528.05 342.47V320.72M530.14 342.47V321.96M532.22 342.47V322.97M534.31 342.47V324.59M536.39 342.47V326.57M538.47 342.47V327.6M540.56 342.47V329.79M542.64 342.47V330.12M544.73 342.47V331.36M546.81 342.47V331.08M548.9 342.47V332.1M550.98 342.47V333.34M553.06 342.47V333.91M555.15 342.47V334.47M557.23 342.47V334.5M559.32 342.47V334.49M561.4 342.47V335.27M563.48 342.47V335.76M565.57 342.47V335.98M567.65 342.47V336.3M569.74 342.47V336.11M571.82 342.47V336.25M573.9 342.47V336.28M575.99 342.47V336.68M578.07 342.47V337.22M580.16 342.47V336.72M582.24 342.47V337.16M584.32 342.47V337.87M586.41 342.47V337.97M588.49 342.47V337.33M590.58 342.47V337.97M592.66 342.47V337.88M594.75 342.47V337.99M596.83 342.47V338.06M598.91 342.47V338.61" stroke="#6e9393" stroke-width="1.1" fill="none" opacity="1"/>
<path d="M482.2 342.47V302.77M484.29 342.47V243.41M601 342.47V338.34M603.08 342.47V338.69M605.17 342.47V338.24M607.25 342.47V338.3M609.33 342.47V338.59M611.42 342.47V338.99M613.5 342.47V338.88M615.59 342.47V338.74M617.67 342.47V339.02M619.75 342.47V339.02M621.84 342.47V339.27M623.92 342.47V338.96M626.01 342.47V339.06M628.09 342.47V339.14M630.17 342.47V339.9M632.26 342.47V339.96M634.34 342.47V339.77M636.43 342.47V339.6M638.51 342.47V340.03M640.6 342.47V340.21M642.68 342.47V340.28M644.76 342.47V340.22M646.85 342.47V339.85M648.93 342.47V339.99M651.02 342.47V340.32M653.1 342.47V340.5M655.18 342.47V340.61M657.27 342.47V340.65M659.35 342.47V340.68M661.44 342.47V340.45M663.52 342.47V340.84M665.6 342.47V340.45" stroke="#b89a96" stroke-width="0.4" fill="none" opacity="0.6"/>
<path d="M55.05 519.85V407.35h1.84V519.85zM58.73 519.85V409.49h1.84V519.85zM62.4 519.85V423.77h1.84V519.85zM66.08 519.85V441.59h1.84V519.85zM69.75 519.85V455.56h1.84V519.85zM73.43 519.85V468.73h1.84V519.85zM77.1 519.85V478.22h1.84V519.85zM80.78 519.85V483.85h1.84V519.85zM84.45 519.85V490.89h1.84V519.85zM88.13 519.85V497.14h1.84V519.85zM91.8 519.85V499.44h1.84V519.85zM95.48 519.85V502.02h1.84V519.85zM99.15 519.85V504.25h1.84V519.85zM102.83 519.85V506.71h1.84V519.85zM106.5 519.85V507.45h1.84V519.85zM110.17 519.85V509.84h1.84V519.85zM113.85 519.85V510.62h1.84V519.85zM117.52 519.85V512.16h1.84V519.85zM121.2 519.85V512.18h1.84V519.85zM124.87 519.85V512.81h1.84V519.85zM128.55 519.85V513.84h1.84V519.85zM132.22 519.85V513.63h1.84V519.85zM135.9 519.85V514.48h1.84V519.85zM139.57 519.85V515.04h1.84V519.85zM143.25 519.85V514.78h1.84V519.85zM146.92 519.85V515.56h1.84V519.85zM150.6 519.85V515.62h1.84V519.85zM154.27 519.85V515.35h1.84V519.85z" fill="#128d85"/>
<path d="M56.89 519.85V403.19h1.84V519.85zM60.56 519.85V415.56h1.84V519.85zM64.24 519.85V430.64h1.84V519.85zM67.91 519.85V450.66h1.84V519.85zM71.59 519.85V462.2h1.84V519.85zM75.26 519.85V472.84h1.84V519.85zM78.94 519.85V482.62h1.84V519.85zM82.61 519.85V487.35h1.84V519.85zM86.29 519.85V494.74h1.84V519.85zM89.96 519.85V498.63h1.84V519.85zM93.64 519.85V501.65h1.84V519.85zM97.31 519.85V503.52h1.84V519.85zM100.99 519.85V505.09h1.84V519.85zM104.66 519.85V507.34h1.84V519.85zM108.34 519.85V508.62h1.84V519.85zM112.01 519.85V510.12h1.84V519.85zM115.69 519.85V511.42h1.84V519.85zM119.36 519.85V511.71h1.84V519.85zM123.04 519.85V513.12h1.84V519.85zM126.71 519.85V513.34h1.84V519.85zM130.39 519.85V514.13h1.84V519.85zM134.06 519.85V514.51h1.84V519.85zM137.74 519.85V514.24h1.84V519.85zM141.41 519.85V514.74h1.84V519.85zM145.09 519.85V515.43h1.84V519.85zM148.76 519.85V515.03h1.84V519.85zM152.44 519.85V515.77h1.84V519.85zM156.11 519.85V515.78h1.84V519.85z" fill="#128d85"/>
<path d="M51.38 519.85V478.96h1.84V519.85zM53.21 519.85V423.26h1.84V519.85zM157.95 519.85V516.11h1.84V519.85zM159.79 519.85V516.59h1.84V519.85zM161.62 519.85V516.35h1.84V519.85zM163.46 519.85V516.4h1.84V519.85zM165.3 519.85V517.16h1.84V519.85zM167.14 519.85V517.15h1.84V519.85zM168.97 519.85V517.32h1.84V519.85zM170.81 519.85V517.1h1.84V519.85zM172.65 519.85V517.43h1.84V519.85zM174.49 519.85V517.46h1.84V519.85zM176.32 519.85V517.32h1.84V519.85zM178.16 519.85V517.48h1.84V519.85zM180 519.85V517.78h1.84V519.85zM181.84 519.85V517.79h1.84V519.85zM183.67 519.85V517.38h1.84V519.85zM185.51 519.85V517.82h1.84V519.85zM187.35 519.85V517.52h1.84V519.85zM189.19 519.85V517.6h1.84V519.85zM191.02 519.85V518.15h1.84V519.85zM192.86 519.85V518.07h1.84V519.85zM194.7 519.85V517.73h1.84V519.85zM196.53 519.85V517.93h1.84V519.85zM198.37 519.85V517.99h1.84V519.85zM200.21 519.85V518.28h1.84V519.85zM202.05 519.85V517.99h1.84V519.85zM203.88 519.85V518.15h1.84V519.85zM205.72 519.85V518.43h1.84V519.85zM207.56 519.85V518.07h1.84V519.85zM209.4 519.85V518.46h1.84V519.85zM211.23 519.85V518.23h1.84V519.85zM213.07 519.85V518.55h1.84V519.85z" fill="#dc8a7c"/>
<path d="M55.05 519.85V407.35M56.89 519.85V403.19M58.73 519.85V409.49M60.56 519.85V415.56M62.4 519.85V423.77M64.24 519.85V430.64M66.08 519.85V441.59M67.91 519.85V450.66M69.75 519.85V455.56M71.59 519.85V462.2M73.43 519.85V468.73M75.26 519.85V472.84M77.1 519.85V478.22M78.94 519.85V482.62M80.78 519.85V483.85M82.61 519.85V487.35M84.45 519.85V490.89M86.29 519.85V494.74M88.13 519.85V497.14M89.96 519.85V498.63M91.8 519.85V499.44M93.64 519.85V501.65M95.48 519.85V502.02M97.31 519.85V503.52M99.15 519.85V504.25M100.99 519.85V505.09M102.83 519.85V506.71M104.66 519.85V507.34M106.5 519.85V507.45M108.34 519.85V508.62M110.17 519.85V509.84M112.01 519.85V510.12M113.85 519.85V510.62M115.69 519.85V511.42M117.52 519.85V512.16M119.36 519.85V511.71M121.2 519.85V512.18M123.04 519.85V513.12M124.87 519.85V512.81M126.71 519.85V513.34M128.55 519.85V513.84M130.39 519.85V514.13M132.22 519.85V513.63M134.06 519.85V514.51M135.9 519.85V514.48M137.74 519.85V514.24M139.57 519.85V515.04M141.41 519.85V514.74M143.25 519.85V514.78M145.09 519.85V515.43M146.92 519.85V515.56M148.76 519.85V515.03M150.6 519.85V515.62M152.44 519.85V515.77M154.27 519.85V515.35M156.11 519.85V515.78" stroke="#6e9393" stroke-width="1.1" fill="none" opacity="1"/>
<path d="M51.38 519.85V478.96M53.21 519.85V423.26M157.95 519.85V516.11M159.79 519.85V516.59M161.62 519.85V516.35M163.46 519.85V516.4M165.3 519.85V517.16M167.14 519.85V517.15M168.97 519.85V517.32M170.81 519.85V517.1M172.65 519.85V517.43M174.49 519.85V517.46M176.32 519.85V517.32M178.16 519.85V517.48M180 519.85V517.78M181.84 519.85V517.79M183.67 519.85V517.38M185.51 519.85V517.82M187.35 519.85V517.52M189.19 519.85V517.6M191.02 519.85V518.15M192.86 519.85V518.07M194.7 519.85V517.73M196.53 519.85V517.93M198.37 519.85V517.99M200.21 519.85V518.28M202.05 519.85V517.99M203.88 519.85V518.15M205.72 519.85V518.43M207.56 519.85V518.07M209.4 519.85V518.46M211.23 519.85V518.23M213.07 519.85V518.55" stroke="#b89a96" stroke-width="0.4" fill="none" opacity="0.6"/>
<path d="M273.94 519.69V434.68h2V519.69zM277.94 519.69V407.85h2V519.69zM281.93 519.69V402.6h2V519.69zM285.93 519.69V398.66h2V519.69zM289.93 519.69V391.55h2V519.69zM293.93 519.69V401.82h2V519.69zM297.93 519.69V406.57h2V519.69zM301.93 519.69V418.18h2V519.69zM305.93 519.69V421.87h2V519.69zM309.93 519.69V428.33h2V519.69zM313.93 519.69V437.98h2V519.69zM317.93 519.69V445.92h2V519.69zM321.93 519.69V455.57h2V519.69zM325.93 519.69V462.38h2V519.69zM329.93 519.69V468.18h2V519.69zM333.93 519.69V472.71h2V519.69zM337.93 519.69V477.73h2V519.69zM341.92 519.69V481.55h2V519.69zM345.92 519.69V484.19h2V519.69zM349.92 519.69V489.92h2V519.69zM353.92 519.69V491.78h2V519.69zM357.92 519.69V497.55h2V519.69zM361.92 519.69V498.59h2V519.69zM365.92 519.69V500.66h2V519.69zM369.92 519.69V503.83h2V519.69zM373.92 519.69V503.66h2V519.69zM377.92 519.69V505.16h2V519.69zM381.92 519.69V506.52h2V519.69zM385.92 519.69V508.88h2V519.69zM389.92 519.69V510.51h2V519.69zM393.92 519.69V509.95h2V519.69z" fill="#128d85"/>
<path d="M275.94 519.69V423.28h2V519.69zM279.93 519.69V400.16h2V519.69zM283.93 519.69V399.26h2V519.69zM287.93 519.69V393.15h2V519.69zM291.93 519.69V398.89h2V519.69zM295.93 519.69V400.51h2V519.69zM299.93 519.69V410.4h2V519.69zM303.93 519.69V422.31h2V519.69zM307.93 519.69V427.22h2V519.69zM311.93 519.69V436.84h2V519.69zM315.93 519.69V445.34h2V519.69zM319.93 519.69V452.31h2V519.69zM323.93 519.69V460.19h2V519.69zM327.93 519.69V461.18h2V519.69zM331.93 519.69V473.98h2V519.69zM335.93 519.69V474.77h2V519.69zM339.93 519.69V479.37h2V519.69zM343.92 519.69V482.64h2V519.69zM347.92 519.69V487.11h2V519.69zM351.92 519.69V492.65h2V519.69zM355.92 519.69V495.08h2V519.69zM359.92 519.69V496.83h2V519.69zM363.92 519.69V500.8h2V519.69zM367.92 519.69V503.2h2V519.69zM371.92 519.69V503.03h2V519.69zM375.92 519.69V504.98h2V519.69zM379.92 519.69V507.21h2V519.69zM383.92 519.69V508.68h2V519.69zM387.92 519.69V508.66h2V519.69zM391.92 519.69V509.45h2V519.69zM395.92 519.69V511.66h2V519.69z" fill="#128d85"/>
<path d="M261.94 519.69V518.55h2V519.69zM263.94 519.69V512.64h2V519.69zM265.94 519.69V498.08h2V519.69zM267.94 519.69V480.81h2V519.69zM269.94 519.69V460.47h2V519.69zM271.94 519.69V446.12h2V519.69zM397.92 519.69V511.48h2V519.69zM399.92 519.69V511.51h2V519.69zM401.92 519.69V512.76h2V519.69zM403.92 519.69V512.81h2V519.69zM405.91 519.69V513.01h2V519.69zM407.91 519.69V512.84h2V519.69zM409.91 519.69V513.98h2V519.69zM411.91 519.69V514.01h2V519.69zM413.91 519.69V514.29h2V519.69zM415.91 519.69V514.27h2V519.69zM417.91 519.69V514.5h2V519.69zM419.91 519.69V514.36h2V519.69zM421.91 519.69V514.84h2V519.69zM423.91 519.69V514.82h2V519.69zM425.91 519.69V515.23h2V519.69zM427.91 519.69V515.36h2V519.69zM429.91 519.69V515.52h2V519.69zM431.91 519.69V515.82h2V519.69zM433.91 519.69V516.21h2V519.69zM435.91 519.69V515.86h2V519.69zM437.91 519.69V516.34h2V519.69z" fill="#dc8a7c"/>
<path d="M273.94 519.69V434.68M275.94 519.69V423.28M277.94 519.69V407.85M279.93 519.69V400.16M281.93 519.69V402.6M283.93 519.69V399.26M285.93 519.69V398.66M287.93 519.69V393.15M289.93 519.69V391.55M291.93 519.69V398.89M293.93 519.69V401.82M295.93 519.69V400.51M297.93 519.69V406.57M299.93 519.69V410.4M301.93 519.69V418.18M303.93 519.69V422.31M305.93 519.69V421.87M307.93 519.69V427.22M309.93 519.69V428.33M311.93 519.69V436.84M313.93 519.69V437.98M315.93 519.69V445.34M317.93 519.69V445.92M319.93 519.69V452.31M321.93 519.69V455.57M323.93 519.69V460.19M325.93 519.69V462.38M327.93 519.69V461.18M329.93 519.69V468.18M331.93 519.69V473.98M333.93 519.69V472.71M335.93 519.69V474.77M337.93 519.69V477.73M339.93 519.69V479.37M341.92 519.69V481.55M343.92 519.69V482.64M345.92 519.69V484.19M347.92 519.69V487.11M349.92 519.69V489.92M351.92 519.69V492.65M353.92 519.69V491.78M355.92 519.69V495.08M357.92 519.69V497.55M359.92 519.69V496.83M361.92 519.69V498.59M363.92 519.69V500.8M365.92 519.69V500.66M367.92 519.69V503.2M369.92 519.69V503.83M371.92 519.69V503.03M373.92 519.69V503.66M375.92 519.69V504.98M377.92 519.69V505.16M379.92 519.69V507.21M381.92 519.69V506.52M383.92 519.69V508.68M385.92 519.69V508.88M387.92 519.69V508.66M389.92 519.69V510.51M391.92 519.69V509.45M393.92 519.69V509.95M395.92 519.69V511.66" stroke="#6e9393" stroke-width="1.1" fill="none" opacity="1"/>
<path d="M261.94 519.69V518.55M263.94 519.69V512.64M265.94 519.69V498.08M267.94 519.69V480.81M269.94 519.69V460.47M271.94 519.69V446.12M397.92 519.69V511.48M399.92 519.69V511.51M401.92 519.69V512.76M403.92 519.69V512.81M405.91 519.69V513.01M407.91 519.69V512.84M409.91 519.69V513.98M411.91 519.69V514.01M413.91 519.69V514.29M415.91 519.69V514.27M417.91 519.69V514.5M419.91 519.69V514.36M421.91 519.69V514.84M423.91 519.69V514.82M425.91 519.69V515.23M427.91 519.69V515.36M429.91 519.69V515.52M431.91 519.69V515.82M433.91 519.69V516.21M435.91 519.69V515.86M437.91 519.69V516.34" stroke="#b89a96" stroke-width="0.4" fill="none" opacity="0.6"/>
<path d="M489.98 521.36V424.39h2.04V521.36zM494.06 521.36V454.45h2.04V521.36zM498.14 521.36V475.79h2.04V521.36zM502.22 521.36V487.42h2.04V521.36zM506.31 521.36V496.15h2.04V521.36zM510.39 521.36V501.97h2.04V521.36zM514.47 521.36V506.43h2.04V521.36zM518.55 521.36V509.79h2.04V521.36zM522.63 521.36V510.97h2.04V521.36zM526.72 521.36V513.17h2.04V521.36zM530.8 521.36V514.08h2.04V521.36zM534.88 521.36V515.35h2.04V521.36zM538.96 521.36V515.67h2.04V521.36zM543.05 521.36V516.95h2.04V521.36zM547.13 521.36V517.48h2.04V521.36zM551.21 521.36V517.99h2.04V521.36zM555.29 521.36V517.91h2.04V521.36zM559.38 521.36V518.47h2.04V521.36zM563.46 521.36V519.06h2.04V521.36zM567.54 521.36V519.3h2.04V521.36zM571.62 521.36V519.44h2.04V521.36zM575.71 521.36V519.61h2.04V521.36zM579.79 521.36V519.84h2.04V521.36z" fill="#128d85"/>
<path d="M487.93 521.36V407.91h2.04V521.36zM492.02 521.36V440.88h2.04V521.36zM496.1 521.36V467.06h2.04V521.36zM500.18 521.36V481.61h2.04V521.36zM504.26 521.36V492.27h2.04V521.36zM508.35 521.36V499.06h2.04V521.36zM512.43 521.36V504.12h2.04V521.36zM516.51 521.36V508.58h2.04V521.36zM520.59 521.36V511.11h2.04V521.36zM524.68 521.36V512.28h2.04V521.36zM528.76 521.36V513.67h2.04V521.36zM532.84 521.36V514.65h2.04V521.36zM536.92 521.36V515.5h2.04V521.36zM541.01 521.36V515.98h2.04V521.36zM545.09 521.36V517.05h2.04V521.36zM549.17 521.36V517.67h2.04V521.36zM553.25 521.36V517.79h2.04V521.36zM557.33 521.36V518.47h2.04V521.36zM561.42 521.36V518.8h2.04V521.36zM565.5 521.36V519.14h2.04V521.36zM569.58 521.36V519.25h2.04V521.36zM573.66 521.36V519.67h2.04V521.36zM577.75 521.36V519.68h2.04V521.36z" fill="#128d85"/>
<path d="M485.89 521.36V437h2.04V521.36zM581.83 521.36V520.05h2.04V521.36zM583.87 521.36V520.08h2.04V521.36zM585.91 521.36V520h2.04V521.36zM587.95 521.36V520.08h2.04V521.36zM589.99 521.36V520.15h2.04V521.36zM592.03 521.36V520.21h2.04V521.36zM594.08 521.36V520.21h2.04V521.36zM596.12 521.36V520.27h2.04V521.36zM598.16 521.36V520.35h2.04V521.36zM600.2 521.36V520.24h2.04V521.36zM602.24 521.36V520.38h2.04V521.36zM604.28 521.36V520.36h2.04V521.36zM606.32 521.36V520.39h2.04V521.36zM608.36 521.36V520.4h2.04V521.36zM610.41 521.36V520.6h2.04V521.36zM612.45 521.36V520.49h2.04V521.36zM614.49 521.36V520.44h2.04V521.36zM616.53 521.36V520.52h2.04V521.36zM618.57 521.36V520.65h2.04V521.36zM620.61 521.36V520.6h2.04V521.36zM622.65 521.36V520.66h2.04V521.36zM624.69 521.36V520.66h2.04V521.36zM626.74 521.36V520.75h2.04V521.36zM628.78 521.36V520.75h2.04V521.36zM630.82 521.36V520.74h2.04V521.36zM632.86 521.36V520.73h2.04V521.36zM634.9 521.36V520.88h2.04V521.36zM636.94 521.36V520.7h2.04V521.36zM638.98 521.36V520.82h2.04V521.36zM641.02 521.36V520.73h2.04V521.36zM643.06 521.36V520.81h2.04V521.36zM645.11 521.36V520.92h2.04V521.36zM647.15 521.36V520.89h2.04V521.36zM649.19 521.36V520.96h2.04V521.36zM651.23 521.36V520.91h2.04V521.36zM653.27 521.36V520.8h2.04V521.36zM655.31 521.36V520.83h2.04V521.36zM657.35 521.36V520.82h2.04V521.36zM659.39 521.36V520.92h2.04V521.36zM661.44 521.36V520.89h2.04V521.36zM663.48 521.36V520.89h2.04V521.36zM665.52 521.36V520.92h2.04V521.36z" fill="#dc8a7c"/>
<path d="M487.93 521.36V407.91M489.98 521.36V424.39M492.02 521.36V440.88M494.06 521.36V454.45M496.1 521.36V467.06M498.14 521.36V475.79M500.18 521.36V481.61M502.22 521.36V487.42M504.26 521.36V492.27M506.31 521.36V496.15M508.35 521.36V499.06M510.39 521.36V501.97M512.43 521.36V504.12M514.47 521.36V506.43M516.51 521.36V508.58M518.55 521.36V509.79M520.59 521.36V511.11M522.63 521.36V510.97M524.68 521.36V512.28M526.72 521.36V513.17M528.76 521.36V513.67M530.8 521.36V514.08M532.84 521.36V514.65M534.88 521.36V515.35M536.92 521.36V515.5M538.96 521.36V515.67M541.01 521.36V515.98M543.05 521.36V516.95M545.09 521.36V517.05M547.13 521.36V517.48M549.17 521.36V517.67M551.21 521.36V517.99M553.25 521.36V517.79M555.29 521.36V517.91M557.33 521.36V518.47M559.38 521.36V518.47M561.42 521.36V518.8M563.46 521.36V519.06M565.5 521.36V519.14M567.54 521.36V519.3M569.58 521.36V519.25M571.62 521.36V519.44M573.66 521.36V519.67M575.71 521.36V519.61M577.75 521.36V519.68M579.79 521.36V519.84" stroke="#6e9393" stroke-width="1.1" fill="none" opacity="1"/>
<path d="M485.89 521.36V437M581.83 521.36V520.05M583.87 521.36V520.08M585.91 521.36V520M587.95 521.36V520.08M589.99 521.36V520.15M592.03 521.36V520.21M594.08 521.36V520.21M596.12 521.36V520.27M598.16 521.36V520.35M600.2 521.36V520.24M602.24 521.36V520.38M604.28 521.36V520.36M606.32 521.36V520.39M608.36 521.36V520.4M610.41 521.36V520.6M612.45 521.36V520.49M614.49 521.36V520.44M616.53 521.36V520.52M618.57 521.36V520.65M620.61 521.36V520.6M622.65 521.36V520.66M624.69 521.36V520.66M626.74 521.36V520.75M628.78 521.36V520.75M630.82 521.36V520.74M632.86 521.36V520.73M634.9 521.36V520.88M636.94 521.36V520.7M638.98 521.36V520.82M641.02 521.36V520.73M643.06 521.36V520.81M645.11 521.36V520.92M647.15 521.36V520.89M649.19 521.36V520.96M651.23 521.36V520.91M653.27 521.36V520.8M655.31 521.36V520.83M657.35 521.36V520.82M659.39 521.36V520.92M661.44 521.36V520.89M663.48 521.36V520.89M665.52 521.36V520.92" stroke="#b89a96" stroke-width="0.4" fill="none" opacity="0.6"/>
</g>
<g filter="url(#bl)">
<line x1="39.12" x2="39.12" y1="23.67" y2="165.04" stroke="#a9a9a9" stroke-width="0.6"/>
<line x1="37.62" x2="215.92" y1="164.84" y2="164.84" stroke="#a9a9a9" stroke-width="0.9"/>
<line x1="37.42" x2="39.62" y1="23.67" y2="23.67" stroke="#a9a9a9" stroke-width="0.7"/>
<line x1="37.42" x2="39.62" y1="43.8" y2="43.8" stroke="#a9a9a9" stroke-width="0.7"/>
<line x1="37.42" x2="39.62" y1="63.92" y2="63.92" stroke="#a9a9a9" stroke-width="0.7"/>
<line x1="37.42" x2="39.62" y1="84.04" y2="84.04" stroke="#a9a9a9" stroke-width="0.7"/>
<line x1="37.42" x2="39.62" y1="104.17" y2="104.17" stroke="#a9a9a9" stroke-width="0.7"/>
<line x1="37.42" x2="39.62" y1="124.29" y2="124.29" stroke="#a9a9a9" stroke-width="0.7"/>
<line x1="37.42" x2="39.62" y1="144.42" y2="144.42" stroke="#a9a9a9" stroke-width="0.7"/>
<line x1="37.42" x2="39.62" y1="164.54" y2="164.54" stroke="#a9a9a9" stroke-width="0.7"/>
<line x1="39.62" x2="39.62" y1="164.54" y2="166.74" stroke="#a9a9a9" stroke-width="0.7"/>
<line x1="55.47" x2="55.47" y1="164.54" y2="166.74" stroke="#a9a9a9" stroke-width="0.7"/>
<line x1="71.32" x2="71.32" y1="164.54" y2="166.74" stroke="#a9a9a9" stroke-width="0.7"/>
<line x1="87.16" x2="87.16" y1="164.54" y2="166.74" stroke="#a9a9a9" stroke-width="0.7"/>
<line x1="103.01" x2="103.01" y1="164.54" y2="166.74" stroke="#a9a9a9" stroke-width="0.7"/>
<line x1="118.86" x2="118.86" y1="164.54" y2="166.74" stroke="#a9a9a9" stroke-width="0.7"/>
<line x1="134.7" x2="134.7" y1="164.54" y2="166.74" stroke="#a9a9a9" stroke-width="0.7"/>
<line x1="150.55" x2="150.55" y1="164.54" y2="166.74" stroke="#a9a9a9" stroke-width="0.7"/>
<line x1="166.4" x2="166.4" y1="164.54" y2="166.74" stroke="#a9a9a9" stroke-width="0.7"/>
<line x1="182.24" x2="182.24" y1="164.54" y2="166.74" stroke="#a9a9a9" stroke-width="0.7"/>
<line x1="198.09" x2="198.09" y1="164.54" y2="166.74" stroke="#a9a9a9" stroke-width="0.7"/>
<line x1="213.94" x2="213.94" y1="164.54" y2="166.74" stroke="#a9a9a9" stroke-width="0.7"/>
<line x1="174.5" x2="174.5" y1="42.97" y2="164.54" stroke="#5580ab" stroke-width="0.7"/>
<text x="16.13" y="26.02" font-size="7.7" textLength="15.4" lengthAdjust="spacingAndGlyphs" fill="#0a0a0a">3500</text>
<text x="16.13" y="46.15" font-size="7.7" textLength="15.4" lengthAdjust="spacingAndGlyphs" fill="#0a0a0a">3000</text>
<text x="16.13" y="66.27" font-size="7.7" textLength="15.4" lengthAdjust="spacingAndGlyphs" fill="#0a0a0a">2500</text>
<text x="16.13" y="86.39" font-size="7.7" textLength="15.4" lengthAdjust="spacingAndGlyphs" fill="#0a0a0a">2000</text>
<text x="16.13" y="106.52" font-size="7.7" textLength="15.4" lengthAdjust="spacingAndGlyphs" fill="#0a0a0a">1500</text>
<text x="16.13" y="126.64" font-size="7.7" textLength="15.4" lengthAdjust="spacingAndGlyphs" fill="#0a0a0a">1000</text>
<text x="19.98" y="146.77" font-size="7.7" textLength="11.55" lengthAdjust="spacingAndGlyphs" fill="#0a0a0a">500</text>
<text x="27.68" y="166.89" font-size="7.7" textLength="3.85" lengthAdjust="spacingAndGlyphs" fill="#0a0a0a">0</text>
<text x="33.3" y="176.51" font-size="8.1" textLength="14.6" lengthAdjust="spacingAndGlyphs" fill="#0a0a0a">0.01</text>
<text x="121.21" y="176.51" font-size="8.1" textLength="14.6" lengthAdjust="spacingAndGlyphs" fill="#0a0a0a">0.33</text>
<text x="207.71" y="176.51" font-size="8.1" textLength="14.6" lengthAdjust="spacingAndGlyphs" fill="#0a0a0a">0.64</text>
<text x="69.17" y="18.68" font-size="8.4" font-weight="bold" textLength="97.72" lengthAdjust="spacingAndGlyphs" fill="#0a0a0a" stroke="#0a0a0a" stroke-width="0.15">HQ · yard without mask</text>
<text x="152.79" y="40.17" font-size="11" textLength="37.94" lengthAdjust="spacingAndGlyphs" fill="#1c1c1c" stroke="#1c1c1c" stroke-width="0.2">95%=0.5</text>
<text transform="translate(17.58 172.6) rotate(-90)" font-size="8.6" font-weight="bold" textLength="31.56" lengthAdjust="spacingAndGlyphs" fill="#0a0a0a" stroke="#0a0a0a" stroke-width="0.25">Frequency</text>
<line x1="264.12" x2="264.12" y1="28.71" y2="166.22" stroke="#a9a9a9" stroke-width="0.6"/>
<line x1="262.62" x2="437.22" y1="166.02" y2="166.02" stroke="#a9a9a9" stroke-width="0.9"/>
<line x1="262.42" x2="264.62" y1="28.71" y2="28.71" stroke="#a9a9a9" stroke-width="0.7"/>
<line x1="262.42" x2="264.62" y1="51.54" y2="51.54" stroke="#a9a9a9" stroke-width="0.7"/>
<line x1="262.42" x2="264.62" y1="74.38" y2="74.38" stroke="#a9a9a9" stroke-width="0.7"/>
<line x1="262.42" x2="264.62" y1="97.21" y2="97.21" stroke="#a9a9a9" stroke-width="0.7"/>
<line x1="262.42" x2="264.62" y1="120.05" y2="120.05" stroke="#a9a9a9" stroke-width="0.7"/>
<line x1="262.42" x2="264.62" y1="142.88" y2="142.88" stroke="#a9a9a9" stroke-width="0.7"/>
<line x1="262.42" x2="264.62" y1="165.72" y2="165.72" stroke="#a9a9a9" stroke-width="0.7"/>
<line x1="264.62" x2="264.62" y1="165.72" y2="167.92" stroke="#a9a9a9" stroke-width="0.7"/>
<line x1="280.14" x2="280.14" y1="165.72" y2="167.92" stroke="#a9a9a9" stroke-width="0.7"/>
<line x1="295.65" x2="295.65" y1="165.72" y2="167.92" stroke="#a9a9a9" stroke-width="0.7"/>
<line x1="311.17" x2="311.17" y1="165.72" y2="167.92" stroke="#a9a9a9" stroke-width="0.7"/>
<line x1="326.68" x2="326.68" y1="165.72" y2="167.92" stroke="#a9a9a9" stroke-width="0.7"/>
<line x1="342.2" x2="342.2" y1="165.72" y2="167.92" stroke="#a9a9a9" stroke-width="0.7"/>
<line x1="357.71" x2="357.71" y1="165.72" y2="167.92" stroke="#a9a9a9" stroke-width="0.7"/>
<line x1="373.23" x2="373.23" y1="165.72" y2="167.92" stroke="#a9a9a9" stroke-width="0.7"/>
<line x1="388.74" x2="388.74" y1="165.72" y2="167.92" stroke="#a9a9a9" stroke-width="0.7"/>
<line x1="404.25" x2="404.25" y1="165.72" y2="167.92" stroke="#a9a9a9" stroke-width="0.7"/>
<line x1="419.77" x2="419.77" y1="165.72" y2="167.92" stroke="#a9a9a9" stroke-width="0.7"/>
<line x1="435.28" x2="435.28" y1="165.72" y2="167.92" stroke="#a9a9a9" stroke-width="0.7"/>
<line x1="384.5" x2="384.5" y1="46.33" y2="165.72" stroke="#5580ab" stroke-width="0.7"/>
<text x="241.63" y="31.06" font-size="7.7" textLength="15.4" lengthAdjust="spacingAndGlyphs" fill="#0a0a0a">6000</text>
<text x="241.63" y="53.89" font-size="7.7" textLength="15.4" lengthAdjust="spacingAndGlyphs" fill="#0a0a0a">5000</text>
<text x="241.63" y="76.73" font-size="7.7" textLength="15.4" lengthAdjust="spacingAndGlyphs" fill="#0a0a0a">4000</text>
<text x="241.63" y="99.56" font-size="7.7" textLength="15.4" lengthAdjust="spacingAndGlyphs" fill="#0a0a0a">3000</text>
<text x="241.63" y="122.4" font-size="7.7" textLength="15.4" lengthAdjust="spacingAndGlyphs" fill="#0a0a0a">2000</text>
<text x="241.63" y="145.23" font-size="7.7" textLength="15.4" lengthAdjust="spacingAndGlyphs" fill="#0a0a0a">1000</text>
<text x="253.18" y="168.07" font-size="7.7" textLength="3.85" lengthAdjust="spacingAndGlyphs" fill="#0a0a0a">0</text>
<text x="259.34" y="178.52" font-size="8.1" textLength="14.6" lengthAdjust="spacingAndGlyphs" fill="#0a0a0a">0.02</text>
<text x="344.8" y="178.52" font-size="8.1" textLength="14.6" lengthAdjust="spacingAndGlyphs" fill="#0a0a0a">1.50</text>
<text x="429.92" y="178.52" font-size="8.1" textLength="14.6" lengthAdjust="spacingAndGlyphs" fill="#0a0a0a">2.97</text>
<text x="275.37" y="22.88" font-size="8.4" font-weight="bold" textLength="131.97" lengthAdjust="spacingAndGlyphs" fill="#0a0a0a" stroke="#0a0a0a" stroke-width="0.15">HQ · resting room without mask</text>
<text x="376.78" y="40.84" font-size="11" textLength="42.98" lengthAdjust="spacingAndGlyphs" fill="#1c1c1c" stroke="#1c1c1c" stroke-width="0.2">95%=2.07</text>
<text transform="translate(243.08 184.02) rotate(-90)" font-size="8.6" font-weight="bold" textLength="36.27" lengthAdjust="spacingAndGlyphs" fill="#0a0a0a" stroke="#0a0a0a" stroke-width="0.25">Frequency</text>
<line x1="490.77" x2="490.77" y1="30.89" y2="165.04" stroke="#a9a9a9" stroke-width="0.6"/>
<line x1="489.27" x2="667.56" y1="164.84" y2="164.84" stroke="#a9a9a9" stroke-width="0.9"/>
<line x1="489.07" x2="491.27" y1="30.89" y2="30.89" stroke="#a9a9a9" stroke-width="0.7"/>
<line x1="489.07" x2="491.27" y1="49.99" y2="49.99" stroke="#a9a9a9" stroke-width="0.7"/>
<line x1="489.07" x2="491.27" y1="69.08" y2="69.08" stroke="#a9a9a9" stroke-width="0.7"/>
<line x1="489.07" x2="491.27" y1="88.17" y2="88.17" stroke="#a9a9a9" stroke-width="0.7"/>
<line x1="489.07" x2="491.27" y1="107.26" y2="107.26" stroke="#a9a9a9" stroke-width="0.7"/>
<line x1="489.07" x2="491.27" y1="126.36" y2="126.36" stroke="#a9a9a9" stroke-width="0.7"/>
<line x1="489.07" x2="491.27" y1="145.45" y2="145.45" stroke="#a9a9a9" stroke-width="0.7"/>
<line x1="489.07" x2="491.27" y1="164.54" y2="164.54" stroke="#a9a9a9" stroke-width="0.7"/>
<line x1="491.27" x2="491.27" y1="164.54" y2="166.74" stroke="#a9a9a9" stroke-width="0.7"/>
<line x1="507.11" x2="507.11" y1="164.54" y2="166.74" stroke="#a9a9a9" stroke-width="0.7"/>
<line x1="522.96" x2="522.96" y1="164.54" y2="166.74" stroke="#a9a9a9" stroke-width="0.7"/>
<line x1="538.81" x2="538.81" y1="164.54" y2="166.74" stroke="#a9a9a9" stroke-width="0.7"/>
<line x1="554.65" x2="554.65" y1="164.54" y2="166.74" stroke="#a9a9a9" stroke-width="0.7"/>
<line x1="570.5" x2="570.5" y1="164.54" y2="166.74" stroke="#a9a9a9" stroke-width="0.7"/>
<line x1="586.35" x2="586.35" y1="164.54" y2="166.74" stroke="#a9a9a9" stroke-width="0.7"/>
<line x1="602.19" x2="602.19" y1="164.54" y2="166.74" stroke="#a9a9a9" stroke-width="0.7"/>
<line x1="618.04" x2="618.04" y1="164.54" y2="166.74" stroke="#a9a9a9" stroke-width="0.7"/>
<line x1="633.88" x2="633.88" y1="164.54" y2="166.74" stroke="#a9a9a9" stroke-width="0.7"/>
<line x1="649.73" x2="649.73" y1="164.54" y2="166.74" stroke="#a9a9a9" stroke-width="0.7"/>
<line x1="665.58" x2="665.58" y1="164.54" y2="166.74" stroke="#a9a9a9" stroke-width="0.7"/>
<line x1="628.5" x2="628.5" y1="46.33" y2="164.54" stroke="#5580ab" stroke-width="0.7"/>
<text x="469.45" y="33.24" font-size="7.7" textLength="15.4" lengthAdjust="spacingAndGlyphs" fill="#0a0a0a">3500</text>
<text x="469.45" y="52.34" font-size="7.7" textLength="15.4" lengthAdjust="spacingAndGlyphs" fill="#0a0a0a">3000</text>
<text x="469.45" y="71.43" font-size="7.7" textLength="15.4" lengthAdjust="spacingAndGlyphs" fill="#0a0a0a">2500</text>
<text x="469.45" y="90.52" font-size="7.7" textLength="15.4" lengthAdjust="spacingAndGlyphs" fill="#0a0a0a">2000</text>
<text x="469.45" y="109.61" font-size="7.7" textLength="15.4" lengthAdjust="spacingAndGlyphs" fill="#0a0a0a">1500</text>
<text x="469.45" y="128.71" font-size="7.7" textLength="15.4" lengthAdjust="spacingAndGlyphs" fill="#0a0a0a">1000</text>
<text x="473.3" y="147.8" font-size="7.7" textLength="11.55" lengthAdjust="spacingAndGlyphs" fill="#0a0a0a">500</text>
<text x="481" y="166.89" font-size="7.7" textLength="3.85" lengthAdjust="spacingAndGlyphs" fill="#0a0a0a">0</text>
<text x="485.14" y="176.84" font-size="8.1" textLength="14.6" lengthAdjust="spacingAndGlyphs" fill="#0a0a0a">0.01</text>
<text x="573.12" y="176.84" font-size="8.1" textLength="14.6" lengthAdjust="spacingAndGlyphs" fill="#0a0a0a">0.28</text>
<text x="659.08" y="176.84" font-size="8.1" textLength="14.6" lengthAdjust="spacingAndGlyphs" fill="#0a0a0a">0.55</text>
<text x="497.98" y="22.04" font-size="8.4" font-weight="bold" textLength="134.99" lengthAdjust="spacingAndGlyphs" fill="#0a0a0a" stroke="#0a0a0a" stroke-width="0.15">HQ · autoclave room without mask</text>
<text x="603.76" y="42.52" font-size="11" textLength="42.65" lengthAdjust="spacingAndGlyphs" fill="#1c1c1c" stroke="#1c1c1c" stroke-width="0.2">95%=0.44</text>
<text transform="translate(474.09 180.66) rotate(-90)" font-size="8.6" font-weight="bold" textLength="32.91" lengthAdjust="spacingAndGlyphs" fill="#0a0a0a" stroke="#0a0a0a" stroke-width="0.25">Frequency</text>
<line x1="46.38" x2="46.38" y1="205.1" y2="342.89" stroke="#a9a9a9" stroke-width="0.6"/>
<line x1="44.88" x2="210.78" y1="342.69" y2="342.69" stroke="#a9a9a9" stroke-width="0.9"/>
<line x1="44.68" x2="46.88" y1="205.1" y2="205.1" stroke="#a9a9a9" stroke-width="0.7"/>
<line x1="44.68" x2="46.88" y1="224.71" y2="224.71" stroke="#a9a9a9" stroke-width="0.7"/>
<line x1="44.68" x2="46.88" y1="244.33" y2="244.33" stroke="#a9a9a9" stroke-width="0.7"/>
<line x1="44.68" x2="46.88" y1="263.94" y2="263.94" stroke="#a9a9a9" stroke-width="0.7"/>
<line x1="44.68" x2="46.88" y1="283.55" y2="283.55" stroke="#a9a9a9" stroke-width="0.7"/>
<line x1="44.68" x2="46.88" y1="303.17" y2="303.17" stroke="#a9a9a9" stroke-width="0.7"/>
<line x1="44.68" x2="46.88" y1="322.78" y2="322.78" stroke="#a9a9a9" stroke-width="0.7"/>
<line x1="44.68" x2="46.88" y1="342.39" y2="342.39" stroke="#a9a9a9" stroke-width="0.7"/>
<line x1="46.88" x2="46.88" y1="342.39" y2="344.59" stroke="#a9a9a9" stroke-width="0.7"/>
<line x1="61.62" x2="61.62" y1="342.39" y2="344.59" stroke="#a9a9a9" stroke-width="0.7"/>
<line x1="76.35" x2="76.35" y1="342.39" y2="344.59" stroke="#a9a9a9" stroke-width="0.7"/>
<line x1="91.08" x2="91.08" y1="342.39" y2="344.59" stroke="#a9a9a9" stroke-width="0.7"/>
<line x1="105.81" x2="105.81" y1="342.39" y2="344.59" stroke="#a9a9a9" stroke-width="0.7"/>
<line x1="120.54" x2="120.54" y1="342.39" y2="344.59" stroke="#a9a9a9" stroke-width="0.7"/>
<line x1="135.28" x2="135.28" y1="342.39" y2="344.59" stroke="#a9a9a9" stroke-width="0.7"/>
<line x1="150.01" x2="150.01" y1="342.39" y2="344.59" stroke="#a9a9a9" stroke-width="0.7"/>
<line x1="164.74" x2="164.74" y1="342.39" y2="344.59" stroke="#a9a9a9" stroke-width="0.7"/>
<line x1="179.47" x2="179.47" y1="342.39" y2="344.59" stroke="#a9a9a9" stroke-width="0.7"/>
<line x1="194.21" x2="194.21" y1="342.39" y2="344.59" stroke="#a9a9a9" stroke-width="0.7"/>
<line x1="208.94" x2="208.94" y1="342.39" y2="344.59" stroke="#a9a9a9" stroke-width="0.7"/>
<line x1="174.5" x2="174.5" y1="222.11" y2="342.39" stroke="#5580ab" stroke-width="0.7"/>
<text x="24.29" y="207.45" font-size="7.7" textLength="15.4" lengthAdjust="spacingAndGlyphs" fill="#0a0a0a">3500</text>
<text x="24.29" y="227.06" font-size="7.7" textLength="15.4" lengthAdjust="spacingAndGlyphs" fill="#0a0a0a">3000</text>
<text x="24.29" y="246.68" font-size="7.7" textLength="15.4" lengthAdjust="spacingAndGlyphs" fill="#0a0a0a">2500</text>
<text x="24.29" y="266.29" font-size="7.7" textLength="15.4" lengthAdjust="spacingAndGlyphs" fill="#0a0a0a">2000</text>
<text x="24.29" y="285.9" font-size="7.7" textLength="15.4" lengthAdjust="spacingAndGlyphs" fill="#0a0a0a">1500</text>
<text x="24.29" y="305.52" font-size="7.7" textLength="15.4" lengthAdjust="spacingAndGlyphs" fill="#0a0a0a">1000</text>
<text x="28.14" y="325.13" font-size="7.7" textLength="11.55" lengthAdjust="spacingAndGlyphs" fill="#0a0a0a">500</text>
<text x="35.84" y="344.74" font-size="7.7" textLength="3.85" lengthAdjust="spacingAndGlyphs" fill="#0a0a0a">0</text>
<text x="41.99" y="356.07" font-size="8.1" textLength="14.6" lengthAdjust="spacingAndGlyphs" fill="#0a0a0a">0.00</text>
<text x="121.97" y="356.07" font-size="8.1" textLength="14.6" lengthAdjust="spacingAndGlyphs" fill="#0a0a0a">0.02</text>
<text x="202.17" y="356.07" font-size="8.1" textLength="14.6" lengthAdjust="spacingAndGlyphs" fill="#0a0a0a">0.04</text>
<text x="68.19" y="200.33" font-size="8.4" font-weight="bold" textLength="95.39" lengthAdjust="spacingAndGlyphs" fill="#0a0a0a" stroke="#0a0a0a" stroke-width="0.15">HQ · yard 3-layer mask</text>
<text x="154.39" y="223.06" font-size="11" textLength="44.16" lengthAdjust="spacingAndGlyphs" fill="#1c1c1c" stroke="#1c1c1c" stroke-width="0.2">95%=0.03</text>
<text transform="translate(27.03 358.72) rotate(-90)" font-size="8.6" font-weight="bold" textLength="36.39" lengthAdjust="spacingAndGlyphs" fill="#0a0a0a" stroke="#0a0a0a" stroke-width="0.25">Frequency</text>
<line x1="263.36" x2="263.36" y1="207.5" y2="340.85" stroke="#a9a9a9" stroke-width="0.6"/>
<line x1="261.86" x2="437.69" y1="340.65" y2="340.65" stroke="#a9a9a9" stroke-width="0.9"/>
<line x1="261.66" x2="263.86" y1="207.5" y2="207.5" stroke="#a9a9a9" stroke-width="0.7"/>
<line x1="261.66" x2="263.86" y1="222.26" y2="222.26" stroke="#a9a9a9" stroke-width="0.7"/>
<line x1="261.66" x2="263.86" y1="237.02" y2="237.02" stroke="#a9a9a9" stroke-width="0.7"/>
<line x1="261.66" x2="263.86" y1="251.78" y2="251.78" stroke="#a9a9a9" stroke-width="0.7"/>
<line x1="261.66" x2="263.86" y1="266.54" y2="266.54" stroke="#a9a9a9" stroke-width="0.7"/>
<line x1="261.66" x2="263.86" y1="281.3" y2="281.3" stroke="#a9a9a9" stroke-width="0.7"/>
<line x1="261.66" x2="263.86" y1="296.07" y2="296.07" stroke="#a9a9a9" stroke-width="0.7"/>
<line x1="261.66" x2="263.86" y1="310.83" y2="310.83" stroke="#a9a9a9" stroke-width="0.7"/>
<line x1="261.66" x2="263.86" y1="325.59" y2="325.59" stroke="#a9a9a9" stroke-width="0.7"/>
<line x1="261.66" x2="263.86" y1="340.35" y2="340.35" stroke="#a9a9a9" stroke-width="0.7"/>
<line x1="263.86" x2="263.86" y1="340.35" y2="342.55" stroke="#a9a9a9" stroke-width="0.7"/>
<line x1="279.49" x2="279.49" y1="340.35" y2="342.55" stroke="#a9a9a9" stroke-width="0.7"/>
<line x1="295.11" x2="295.11" y1="340.35" y2="342.55" stroke="#a9a9a9" stroke-width="0.7"/>
<line x1="310.74" x2="310.74" y1="340.35" y2="342.55" stroke="#a9a9a9" stroke-width="0.7"/>
<line x1="326.36" x2="326.36" y1="340.35" y2="342.55" stroke="#a9a9a9" stroke-width="0.7"/>
<line x1="341.99" x2="341.99" y1="340.35" y2="342.55" stroke="#a9a9a9" stroke-width="0.7"/>
<line x1="357.61" x2="357.61" y1="340.35" y2="342.55" stroke="#a9a9a9" stroke-width="0.7"/>
<line x1="373.24" x2="373.24" y1="340.35" y2="342.55" stroke="#a9a9a9" stroke-width="0.7"/>
<line x1="388.86" x2="388.86" y1="340.35" y2="342.55" stroke="#a9a9a9" stroke-width="0.7"/>
<line x1="404.49" x2="404.49" y1="340.35" y2="342.55" stroke="#a9a9a9" stroke-width="0.7"/>
<line x1="420.11" x2="420.11" y1="340.35" y2="342.55" stroke="#a9a9a9" stroke-width="0.7"/>
<line x1="435.74" x2="435.74" y1="340.35" y2="342.55" stroke="#a9a9a9" stroke-width="0.7"/>
<line x1="390.5" x2="390.5" y1="215.57" y2="340.35" stroke="#5580ab" stroke-width="0.7"/>
<text x="240.99" y="209.85" font-size="7.7" textLength="15.4" lengthAdjust="spacingAndGlyphs" fill="#0a0a0a">4500</text>
<text x="240.99" y="224.61" font-size="7.7" textLength="15.4" lengthAdjust="spacingAndGlyphs" fill="#0a0a0a">4000</text>
<text x="240.99" y="239.37" font-size="7.7" textLength="15.4" lengthAdjust="spacingAndGlyphs" fill="#0a0a0a">3500</text>
<text x="240.99" y="254.13" font-size="7.7" textLength="15.4" lengthAdjust="spacingAndGlyphs" fill="#0a0a0a">3000</text>
<text x="240.99" y="268.89" font-size="7.7" textLength="15.4" lengthAdjust="spacingAndGlyphs" fill="#0a0a0a">2500</text>
<text x="240.99" y="283.65" font-size="7.7" textLength="15.4" lengthAdjust="spacingAndGlyphs" fill="#0a0a0a">2000</text>
<text x="240.99" y="298.42" font-size="7.7" textLength="15.4" lengthAdjust="spacingAndGlyphs" fill="#0a0a0a">1500</text>
<text x="240.99" y="313.18" font-size="7.7" textLength="15.4" lengthAdjust="spacingAndGlyphs" fill="#0a0a0a">1000</text>
<text x="244.84" y="327.94" font-size="7.7" textLength="11.55" lengthAdjust="spacingAndGlyphs" fill="#0a0a0a">500</text>
<text x="252.54" y="342.7" font-size="7.7" textLength="3.85" lengthAdjust="spacingAndGlyphs" fill="#0a0a0a">0</text>
<text x="257.98" y="353.49" font-size="8.1" textLength="14.6" lengthAdjust="spacingAndGlyphs" fill="#0a0a0a">0.00</text>
<text x="343.86" y="353.49" font-size="8.1" textLength="14.6" lengthAdjust="spacingAndGlyphs" fill="#0a0a0a">0.04</text>
<text x="429.58" y="353.49" font-size="8.1" textLength="14.6" lengthAdjust="spacingAndGlyphs" fill="#0a0a0a">0.07</text>
<text x="278" y="200.86" font-size="8.4" font-weight="bold" textLength="126.13" lengthAdjust="spacingAndGlyphs" fill="#0a0a0a" stroke="#0a0a0a" stroke-width="0.15">HQ · resting room 3-layer mask</text>
<text x="370.91" y="215.64" font-size="11" textLength="42.4" lengthAdjust="spacingAndGlyphs" fill="#1c1c1c" stroke="#1c1c1c" stroke-width="0.2">95%=0.05</text>
<text transform="translate(242.63 356.95) rotate(-90)" font-size="8.6" font-weight="bold" textLength="35.33" lengthAdjust="spacingAndGlyphs" fill="#0a0a0a" stroke="#0a0a0a" stroke-width="0.25">Frequency</text>
<line x1="481.7" x2="481.7" y1="207.86" y2="342.97" stroke="#a9a9a9" stroke-width="0.6"/>
<line x1="480.2" x2="667.69" y1="342.77" y2="342.77" stroke="#a9a9a9" stroke-width="0.9"/>
<line x1="480" x2="482.2" y1="207.86" y2="207.86" stroke="#a9a9a9" stroke-width="0.7"/>
<line x1="480" x2="482.2" y1="227.09" y2="227.09" stroke="#a9a9a9" stroke-width="0.7"/>
<line x1="480" x2="482.2" y1="246.32" y2="246.32" stroke="#a9a9a9" stroke-width="0.7"/>
<line x1="480" x2="482.2" y1="265.55" y2="265.55" stroke="#a9a9a9" stroke-width="0.7"/>
<line x1="480" x2="482.2" y1="284.78" y2="284.78" stroke="#a9a9a9" stroke-width="0.7"/>
<line x1="480" x2="482.2" y1="304.01" y2="304.01" stroke="#a9a9a9" stroke-width="0.7"/>
<line x1="480" x2="482.2" y1="323.24" y2="323.24" stroke="#a9a9a9" stroke-width="0.7"/>
<line x1="480" x2="482.2" y1="342.47" y2="342.47" stroke="#a9a9a9" stroke-width="0.7"/>
<line x1="482.2" x2="482.2" y1="342.47" y2="344.67" stroke="#a9a9a9" stroke-width="0.7"/>
<line x1="498.88" x2="498.88" y1="342.47" y2="344.67" stroke="#a9a9a9" stroke-width="0.7"/>
<line x1="515.55" x2="515.55" y1="342.47" y2="344.67" stroke="#a9a9a9" stroke-width="0.7"/>
<line x1="532.22" x2="532.22" y1="342.47" y2="344.67" stroke="#a9a9a9" stroke-width="0.7"/>
<line x1="548.9" x2="548.9" y1="342.47" y2="344.67" stroke="#a9a9a9" stroke-width="0.7"/>
<line x1="565.57" x2="565.57" y1="342.47" y2="344.67" stroke="#a9a9a9" stroke-width="0.7"/>
<line x1="582.24" x2="582.24" y1="342.47" y2="344.67" stroke="#a9a9a9" stroke-width="0.7"/>
<line x1="598.91" x2="598.91" y1="342.47" y2="344.67" stroke="#a9a9a9" stroke-width="0.7"/>
<line x1="615.59" x2="615.59" y1="342.47" y2="344.67" stroke="#a9a9a9" stroke-width="0.7"/>
<line x1="632.26" x2="632.26" y1="342.47" y2="344.67" stroke="#a9a9a9" stroke-width="0.7"/>
<line x1="648.93" x2="648.93" y1="342.47" y2="344.67" stroke="#a9a9a9" stroke-width="0.7"/>
<line x1="665.6" x2="665.6" y1="342.47" y2="344.67" stroke="#a9a9a9" stroke-width="0.7"/>
<line x1="599.5" x2="599.5" y1="226.52" y2="342.47" stroke="#5580ab" stroke-width="0.7"/>
<text x="459.33" y="210.21" font-size="7.7" textLength="15.4" lengthAdjust="spacingAndGlyphs" fill="#0a0a0a">7000</text>
<text x="459.33" y="229.44" font-size="7.7" textLength="15.4" lengthAdjust="spacingAndGlyphs" fill="#0a0a0a">6000</text>
<text x="459.33" y="248.67" font-size="7.7" textLength="15.4" lengthAdjust="spacingAndGlyphs" fill="#0a0a0a">5000</text>
<text x="459.33" y="267.9" font-size="7.7" textLength="15.4" lengthAdjust="spacingAndGlyphs" fill="#0a0a0a">4000</text>
<text x="459.33" y="287.13" font-size="7.7" textLength="15.4" lengthAdjust="spacingAndGlyphs" fill="#0a0a0a">3000</text>
<text x="459.33" y="306.36" font-size="7.7" textLength="15.4" lengthAdjust="spacingAndGlyphs" fill="#0a0a0a">2000</text>
<text x="459.33" y="325.59" font-size="7.7" textLength="15.4" lengthAdjust="spacingAndGlyphs" fill="#0a0a0a">1000</text>
<text x="470.88" y="344.82" font-size="7.7" textLength="3.85" lengthAdjust="spacingAndGlyphs" fill="#0a0a0a">0</text>
<text x="476.49" y="354.55" font-size="8.1" textLength="14.6" lengthAdjust="spacingAndGlyphs" fill="#0a0a0a">0.00</text>
<text x="568.18" y="354.55" font-size="8.1" textLength="14.6" lengthAdjust="spacingAndGlyphs" fill="#0a0a0a">0.06</text>
<text x="660.56" y="354.55" font-size="8.1" textLength="14.6" lengthAdjust="spacingAndGlyphs" fill="#0a0a0a">0.12</text>
<text x="497.4" y="199.1" font-size="8.4" font-weight="bold" textLength="139.55" lengthAdjust="spacingAndGlyphs" fill="#0a0a0a" stroke="#0a0a0a" stroke-width="0.15">HQ · autoclave room 3-layer mask</text>
<text x="576.89" y="218.82" font-size="11" textLength="44.16" lengthAdjust="spacingAndGlyphs" fill="#1c1c1c" stroke="#1c1c1c" stroke-width="0.2">95%=0.08</text>
<text transform="translate(464.01 360.98) rotate(-90)" font-size="8.6" font-weight="bold" textLength="31.41" lengthAdjust="spacingAndGlyphs" fill="#0a0a0a" stroke="#0a0a0a" stroke-width="0.25">Frequency</text>
<line x1="50.88" x2="50.88" y1="382.18" y2="520.35" stroke="#a9a9a9" stroke-width="0.6"/>
<line x1="49.38" x2="214.91" y1="520.15" y2="520.15" stroke="#a9a9a9" stroke-width="0.9"/>
<line x1="49.18" x2="51.38" y1="382.18" y2="382.18" stroke="#a9a9a9" stroke-width="0.7"/>
<line x1="49.18" x2="51.38" y1="399.39" y2="399.39" stroke="#a9a9a9" stroke-width="0.7"/>
<line x1="49.18" x2="51.38" y1="416.6" y2="416.6" stroke="#a9a9a9" stroke-width="0.7"/>
<line x1="49.18" x2="51.38" y1="433.81" y2="433.81" stroke="#a9a9a9" stroke-width="0.7"/>
<line x1="49.18" x2="51.38" y1="451.02" y2="451.02" stroke="#a9a9a9" stroke-width="0.7"/>
<line x1="49.18" x2="51.38" y1="468.22" y2="468.22" stroke="#a9a9a9" stroke-width="0.7"/>
<line x1="49.18" x2="51.38" y1="485.43" y2="485.43" stroke="#a9a9a9" stroke-width="0.7"/>
<line x1="49.18" x2="51.38" y1="502.64" y2="502.64" stroke="#a9a9a9" stroke-width="0.7"/>
<line x1="49.18" x2="51.38" y1="519.85" y2="519.85" stroke="#a9a9a9" stroke-width="0.7"/>
<line x1="51.38" x2="51.38" y1="519.85" y2="522.05" stroke="#a9a9a9" stroke-width="0.7"/>
<line x1="66.08" x2="66.08" y1="519.85" y2="522.05" stroke="#a9a9a9" stroke-width="0.7"/>
<line x1="80.78" x2="80.78" y1="519.85" y2="522.05" stroke="#a9a9a9" stroke-width="0.7"/>
<line x1="95.48" x2="95.48" y1="519.85" y2="522.05" stroke="#a9a9a9" stroke-width="0.7"/>
<line x1="110.17" x2="110.17" y1="519.85" y2="522.05" stroke="#a9a9a9" stroke-width="0.7"/>
<line x1="124.87" x2="124.87" y1="519.85" y2="522.05" stroke="#a9a9a9" stroke-width="0.7"/>
<line x1="139.57" x2="139.57" y1="519.85" y2="522.05" stroke="#a9a9a9" stroke-width="0.7"/>
<line x1="154.27" x2="154.27" y1="519.85" y2="522.05" stroke="#a9a9a9" stroke-width="0.7"/>
<line x1="168.97" x2="168.97" y1="519.85" y2="522.05" stroke="#a9a9a9" stroke-width="0.7"/>
<line x1="183.67" x2="183.67" y1="519.85" y2="522.05" stroke="#a9a9a9" stroke-width="0.7"/>
<line x1="198.37" x2="198.37" y1="519.85" y2="522.05" stroke="#a9a9a9" stroke-width="0.7"/>
<line x1="213.07" x2="213.07" y1="519.85" y2="522.05" stroke="#a9a9a9" stroke-width="0.7"/>
<line x1="157.5" x2="157.5" y1="397.62" y2="519.85" stroke="#5580ab" stroke-width="0.7"/>
<text x="29.56" y="384.53" font-size="7.7" textLength="15.4" lengthAdjust="spacingAndGlyphs" fill="#0a0a0a">8000</text>
<text x="29.56" y="401.74" font-size="7.7" textLength="15.4" lengthAdjust="spacingAndGlyphs" fill="#0a0a0a">7000</text>
<text x="29.56" y="418.95" font-size="7.7" textLength="15.4" lengthAdjust="spacingAndGlyphs" fill="#0a0a0a">6000</text>
<text x="29.56" y="436.16" font-size="7.7" textLength="15.4" lengthAdjust="spacingAndGlyphs" fill="#0a0a0a">5000</text>
<text x="29.56" y="453.37" font-size="7.7" textLength="15.4" lengthAdjust="spacingAndGlyphs" fill="#0a0a0a">4000</text>
<text x="29.56" y="470.57" font-size="7.7" textLength="15.4" lengthAdjust="spacingAndGlyphs" fill="#0a0a0a">3000</text>
<text x="29.56" y="487.78" font-size="7.7" textLength="15.4" lengthAdjust="spacingAndGlyphs" fill="#0a0a0a">2000</text>
<text x="29.56" y="504.99" font-size="7.7" textLength="15.4" lengthAdjust="spacingAndGlyphs" fill="#0a0a0a">1000</text>
<text x="41.11" y="522.2" font-size="7.7" textLength="3.85" lengthAdjust="spacingAndGlyphs" fill="#0a0a0a">0</text>
<text x="45.69" y="532.83" font-size="8.1" textLength="14.6" lengthAdjust="spacingAndGlyphs" fill="#0a0a0a">0.00</text>
<text x="126.68" y="532.83" font-size="8.1" textLength="14.6" lengthAdjust="spacingAndGlyphs" fill="#0a0a0a">0.05</text>
<text x="207.44" y="532.83" font-size="8.1" textLength="14.6" lengthAdjust="spacingAndGlyphs" fill="#0a0a0a">0.09</text>
<text x="77.9" y="377.69" font-size="8.4" font-weight="bold" textLength="75.55" lengthAdjust="spacingAndGlyphs" fill="#0a0a0a" stroke="#0a0a0a" stroke-width="0.15">HQ · yard N95 mask</text>
<text x="138.68" y="394.47" font-size="11" textLength="40.3" lengthAdjust="spacingAndGlyphs" fill="#1c1c1c" stroke="#1c1c1c" stroke-width="0.2">95%=0.06</text>
<text transform="translate(24.13 535.97) rotate(-90)" font-size="8.6" font-weight="bold" textLength="34.92" lengthAdjust="spacingAndGlyphs" fill="#0a0a0a" stroke="#0a0a0a" stroke-width="0.25">Frequency</text>
<line x1="261.44" x2="261.44" y1="382.51" y2="520.19" stroke="#a9a9a9" stroke-width="0.6"/>
<line x1="259.94" x2="439.91" y1="519.99" y2="519.99" stroke="#a9a9a9" stroke-width="0.9"/>
<line x1="259.74" x2="261.94" y1="382.51" y2="382.51" stroke="#a9a9a9" stroke-width="0.7"/>
<line x1="259.74" x2="261.94" y1="402.11" y2="402.11" stroke="#a9a9a9" stroke-width="0.7"/>
<line x1="259.74" x2="261.94" y1="421.71" y2="421.71" stroke="#a9a9a9" stroke-width="0.7"/>
<line x1="259.74" x2="261.94" y1="441.3" y2="441.3" stroke="#a9a9a9" stroke-width="0.7"/>
<line x1="259.74" x2="261.94" y1="460.9" y2="460.9" stroke="#a9a9a9" stroke-width="0.7"/>
<line x1="259.74" x2="261.94" y1="480.49" y2="480.49" stroke="#a9a9a9" stroke-width="0.7"/>
<line x1="259.74" x2="261.94" y1="500.09" y2="500.09" stroke="#a9a9a9" stroke-width="0.7"/>
<line x1="259.74" x2="261.94" y1="519.69" y2="519.69" stroke="#a9a9a9" stroke-width="0.7"/>
<line x1="261.94" x2="261.94" y1="519.69" y2="521.89" stroke="#a9a9a9" stroke-width="0.7"/>
<line x1="277.94" x2="277.94" y1="519.69" y2="521.89" stroke="#a9a9a9" stroke-width="0.7"/>
<line x1="293.93" x2="293.93" y1="519.69" y2="521.89" stroke="#a9a9a9" stroke-width="0.7"/>
<line x1="309.93" x2="309.93" y1="519.69" y2="521.89" stroke="#a9a9a9" stroke-width="0.7"/>
<line x1="325.93" x2="325.93" y1="519.69" y2="521.89" stroke="#a9a9a9" stroke-width="0.7"/>
<line x1="341.92" x2="341.92" y1="519.69" y2="521.89" stroke="#a9a9a9" stroke-width="0.7"/>
<line x1="357.92" x2="357.92" y1="519.69" y2="521.89" stroke="#a9a9a9" stroke-width="0.7"/>
<line x1="373.92" x2="373.92" y1="519.69" y2="521.89" stroke="#a9a9a9" stroke-width="0.7"/>
<line x1="389.92" x2="389.92" y1="519.69" y2="521.89" stroke="#a9a9a9" stroke-width="0.7"/>
<line x1="405.91" x2="405.91" y1="519.69" y2="521.89" stroke="#a9a9a9" stroke-width="0.7"/>
<line x1="421.91" x2="421.91" y1="519.69" y2="521.89" stroke="#a9a9a9" stroke-width="0.7"/>
<line x1="437.91" x2="437.91" y1="519.69" y2="521.89" stroke="#a9a9a9" stroke-width="0.7"/>
<line x1="397.5" x2="397.5" y1="394.93" y2="519.69" stroke="#5580ab" stroke-width="0.7"/>
<text x="237.94" y="384.86" font-size="7.7" textLength="15.4" lengthAdjust="spacingAndGlyphs" fill="#0a0a0a">3500</text>
<text x="237.94" y="404.46" font-size="7.7" textLength="15.4" lengthAdjust="spacingAndGlyphs" fill="#0a0a0a">3000</text>
<text x="237.94" y="424.06" font-size="7.7" textLength="15.4" lengthAdjust="spacingAndGlyphs" fill="#0a0a0a">2500</text>
<text x="237.94" y="443.65" font-size="7.7" textLength="15.4" lengthAdjust="spacingAndGlyphs" fill="#0a0a0a">2000</text>
<text x="237.94" y="463.25" font-size="7.7" textLength="15.4" lengthAdjust="spacingAndGlyphs" fill="#0a0a0a">1500</text>
<text x="237.94" y="482.84" font-size="7.7" textLength="15.4" lengthAdjust="spacingAndGlyphs" fill="#0a0a0a">1000</text>
<text x="241.79" y="502.44" font-size="7.7" textLength="11.55" lengthAdjust="spacingAndGlyphs" fill="#0a0a0a">500</text>
<text x="249.49" y="522.04" font-size="7.7" textLength="3.85" lengthAdjust="spacingAndGlyphs" fill="#0a0a0a">0</text>
<text x="255.21" y="532.83" font-size="8.1" textLength="14.6" lengthAdjust="spacingAndGlyphs" fill="#0a0a0a">0.00</text>
<text x="343.49" y="532.83" font-size="8.1" textLength="14.6" lengthAdjust="spacingAndGlyphs" fill="#0a0a0a">0.03</text>
<text x="431.94" y="532.83" font-size="8.1" textLength="14.6" lengthAdjust="spacingAndGlyphs" fill="#0a0a0a">0.06</text>
<text x="282.76" y="375.34" font-size="8.4" font-weight="bold" textLength="116.86" lengthAdjust="spacingAndGlyphs" fill="#0a0a0a" stroke="#0a0a0a" stroke-width="0.15">HQ · resting room N95 mask</text>
<text x="368.72" y="392.79" font-size="11" textLength="43.65" lengthAdjust="spacingAndGlyphs" fill="#1c1c1c" stroke="#1c1c1c" stroke-width="0.2">95%=0.04</text>
<text transform="translate(241.07 534.96) rotate(-90)" font-size="8.6" font-weight="bold" textLength="36.94" lengthAdjust="spacingAndGlyphs" fill="#0a0a0a" stroke="#0a0a0a" stroke-width="0.25">Frequency</text>
<line x1="485.39" x2="485.39" y1="385.6" y2="521.86" stroke="#a9a9a9" stroke-width="0.6"/>
<line x1="483.89" x2="667.56" y1="521.66" y2="521.66" stroke="#a9a9a9" stroke-width="0.9"/>
<line x1="483.69" x2="485.89" y1="385.6" y2="385.6" stroke="#a9a9a9" stroke-width="0.7"/>
<line x1="483.69" x2="485.89" y1="405" y2="405" stroke="#a9a9a9" stroke-width="0.7"/>
<line x1="483.69" x2="485.89" y1="424.39" y2="424.39" stroke="#a9a9a9" stroke-width="0.7"/>
<line x1="483.69" x2="485.89" y1="443.79" y2="443.79" stroke="#a9a9a9" stroke-width="0.7"/>
<line x1="483.69" x2="485.89" y1="463.18" y2="463.18" stroke="#a9a9a9" stroke-width="0.7"/>
<line x1="483.69" x2="485.89" y1="482.58" y2="482.58" stroke="#a9a9a9" stroke-width="0.7"/>
<line x1="483.69" x2="485.89" y1="501.97" y2="501.97" stroke="#a9a9a9" stroke-width="0.7"/>
<line x1="483.69" x2="485.89" y1="521.36" y2="521.36" stroke="#a9a9a9" stroke-width="0.7"/>
<line x1="485.89" x2="485.89" y1="521.36" y2="523.56" stroke="#a9a9a9" stroke-width="0.7"/>
<line x1="502.22" x2="502.22" y1="521.36" y2="523.56" stroke="#a9a9a9" stroke-width="0.7"/>
<line x1="518.55" x2="518.55" y1="521.36" y2="523.56" stroke="#a9a9a9" stroke-width="0.7"/>
<line x1="534.88" x2="534.88" y1="521.36" y2="523.56" stroke="#a9a9a9" stroke-width="0.7"/>
<line x1="551.21" x2="551.21" y1="521.36" y2="523.56" stroke="#a9a9a9" stroke-width="0.7"/>
<line x1="567.54" x2="567.54" y1="521.36" y2="523.56" stroke="#a9a9a9" stroke-width="0.7"/>
<line x1="583.87" x2="583.87" y1="521.36" y2="523.56" stroke="#a9a9a9" stroke-width="0.7"/>
<line x1="600.2" x2="600.2" y1="521.36" y2="523.56" stroke="#a9a9a9" stroke-width="0.7"/>
<line x1="616.53" x2="616.53" y1="521.36" y2="523.56" stroke="#a9a9a9" stroke-width="0.7"/>
<line x1="632.86" x2="632.86" y1="521.36" y2="523.56" stroke="#a9a9a9" stroke-width="0.7"/>
<line x1="649.19" x2="649.19" y1="521.36" y2="523.56" stroke="#a9a9a9" stroke-width="0.7"/>
<line x1="665.52" x2="665.52" y1="521.36" y2="523.56" stroke="#a9a9a9" stroke-width="0.7"/>
<line x1="581.5" x2="581.5" y1="403.66" y2="521.36" stroke="#5580ab" stroke-width="0.7"/>
<text x="460.23" y="387.95" font-size="7.7" textLength="19.25" lengthAdjust="spacingAndGlyphs" fill="#0a0a0a">14000</text>
<text x="460.23" y="407.35" font-size="7.7" textLength="19.25" lengthAdjust="spacingAndGlyphs" fill="#0a0a0a">12000</text>
<text x="460.23" y="426.74" font-size="7.7" textLength="19.25" lengthAdjust="spacingAndGlyphs" fill="#0a0a0a">10000</text>
<text x="464.08" y="446.14" font-size="7.7" textLength="15.4" lengthAdjust="spacingAndGlyphs" fill="#0a0a0a">8000</text>
<text x="464.08" y="465.53" font-size="7.7" textLength="15.4" lengthAdjust="spacingAndGlyphs" fill="#0a0a0a">6000</text>
<text x="464.08" y="484.93" font-size="7.7" textLength="15.4" lengthAdjust="spacingAndGlyphs" fill="#0a0a0a">4000</text>
<text x="464.08" y="504.32" font-size="7.7" textLength="15.4" lengthAdjust="spacingAndGlyphs" fill="#0a0a0a">2000</text>
<text x="475.63" y="523.71" font-size="7.7" textLength="3.85" lengthAdjust="spacingAndGlyphs" fill="#0a0a0a">0</text>
<text x="480.21" y="533.33" font-size="8.1" textLength="14.6" lengthAdjust="spacingAndGlyphs" fill="#0a0a0a">0.00</text>
<text x="570.1" y="533.33" font-size="8.1" textLength="14.6" lengthAdjust="spacingAndGlyphs" fill="#0a0a0a">0.13</text>
<text x="660.09" y="533.33" font-size="8.1" textLength="14.6" lengthAdjust="spacingAndGlyphs" fill="#0a0a0a">0.26</text>
<text x="504.7" y="378.36" font-size="8.4" font-weight="bold" textLength="125.59" lengthAdjust="spacingAndGlyphs" fill="#0a0a0a" stroke="#0a0a0a" stroke-width="0.15">HQ · autoclave room N95 mask</text>
<text x="564.81" y="397.83" font-size="11" textLength="42.98" lengthAdjust="spacingAndGlyphs" fill="#1c1c1c" stroke="#1c1c1c" stroke-width="0.2">95%=0.14</text>
<text transform="translate(467.71 540) rotate(-90)" font-size="8.6" font-weight="bold" textLength="35.93" lengthAdjust="spacingAndGlyphs" fill="#0a0a0a" stroke="#0a0a0a" stroke-width="0.25">Frequency</text>
</g>
</svg>
</body></html>
